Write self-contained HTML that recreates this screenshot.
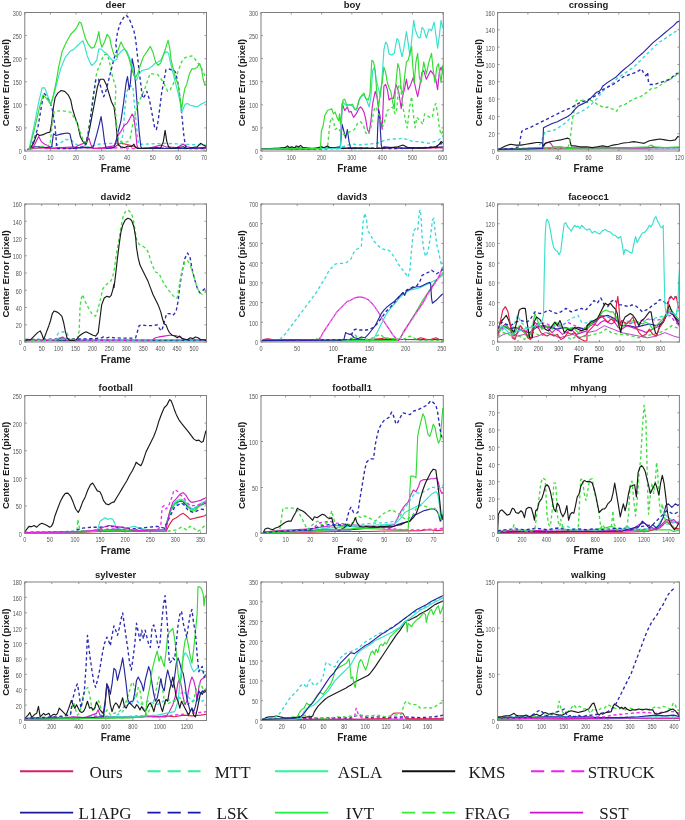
<!DOCTYPE html>
<html><head><meta charset="utf-8"><style>
html,body{margin:0;padding:0;background:#fff;}
svg{display:block;will-change:transform;}
.tk{font-family:"Liberation Sans",sans-serif;font-size:6.4px;fill:#555;}
.tt{font-family:"Liberation Sans",sans-serif;font-size:9.5px;font-weight:bold;fill:#1a1a1a;}
.xl{font-family:"Liberation Sans",sans-serif;font-size:10px;font-weight:bold;fill:#1a1a1a;}
.yl{font-family:"Liberation Sans",sans-serif;font-size:9.6px;font-weight:bold;fill:#1a1a1a;}
.lg{font-family:"Liberation Serif",serif;font-size:17px;fill:#1a1a1a;}
</style></head><body>
<svg width="685" height="820" viewBox="0 0 685 820">
<clipPath id="c0"><rect x="24.8" y="12.5" width="181.7" height="138.5"/></clipPath>
<g clip-path="url(#c0)" fill="none" stroke-linejoin="round" stroke-linecap="round">
<polyline points="27.46,149.4 34.39,148.54 41.32,147.67 49.98,148.54 58.63,147.67 69.02,148.54 75.95,148.19 82.88,146.8 88.07,147.67 96.73,148.54 107.12,148.19 113.88,147.67 117.46,145.07 120.93,143.34 126.12,144.21 133.05,145.94 139.98,148.54 157.29,148.54 174.61,148.19 191.93,148.54 206.99,148.19" stroke="#e0204a" stroke-width="1.15"/>
<polyline points="27.46,149.4 37.85,147.67 48.24,148.54 58.63,148.19 72.49,148.54 86.34,147.67 100.2,148.54 113.88,148.02 120.93,147.67 134.78,148.54 157.29,147.67 183.27,148.54 206.99,148.02" stroke="#ee30ee" stroke-width="1.35" stroke-dasharray="3.2 2.6" stroke-linecap="butt"/>
<polyline points="49.98,147.67 58.63,144.21 65.56,139.53 70.76,139.88 75.95,144.21 81.15,146.8 89.8,146.8 98.46,144.21 105.39,143.69 113.88,143.34 120.93,143.34 123.52,131.22 124.39,112.69 126.81,91.91 129.07,86.02 132.88,86.37 134.26,103.17 135.65,117.37 137.03,131.39 138.42,144.21 141.71,144.21 157.29,143.69 165.95,143.34 183.27,144.21 195.39,144.73 206.99,145.07" stroke="#3ed8d8" stroke-width="1.35" stroke-dasharray="3.2 2.6" stroke-linecap="butt"/>
<polyline points="29.2,149.4 34.39,145.07 38.72,136.41 41.32,141.61 44.78,144.21 48.24,145.94 51.71,148.54 62.1,147.67 75.95,146.8 81.15,144.21 83.74,143.34 86.34,141.61 88.94,138.15 90.67,144.21 93.27,148.54 103.66,147.67 113.88,145.94 115.73,141.61 117.46,136.41 120.93,131.22 124.39,125.16 126.99,123.43 129.59,119.1 132.18,113.9 133.91,117.37 135.65,131.22 136.86,145.07 138.24,148.54 148.63,148.19 160.76,145.07 165.95,146.8 176.34,147.67 183.27,144.21 186.73,146.8 197.12,148.54 206.99,146.8" stroke="#d020c8" stroke-width="1.15"/>
<polyline points="29.2,149.4 34.39,146.8 39.59,146.8 46.51,147.67 51.71,146.8 53.44,133.82 56.04,135.55 58.63,134.68 62.1,133.82 67.29,132.95 69.89,133.82 71.62,141.61 73.35,148.54 81.15,147.67 89.8,147.67 93.27,146.8 96.73,134.68 99.33,124.29 101.06,116.5 102.79,127.76 104.52,141.61 106.26,148.54 113.88,147.67 114,146.8 115.73,143.34 117.46,134.68 120.93,120.83 123.52,103.51 126.12,82.73 127.51,76.67 129.24,89.66 130.45,82.73 132.18,58.49 133.91,67.15 135.65,84.46 137.38,106.98 139.11,131.22 140.84,146.8 142.57,148.54 165.95,148.54 186.73,148.54 206.99,147.67" stroke="#2626a0" stroke-width="1.15"/>
<polyline points="29.2,149.4 33.52,143.34 36.99,133.82 39.59,135.55 43.05,134.68 46.51,132.95 49.98,132.09 51.71,122.56 53.44,106.98 55.17,97.45 57.77,93.12 61.23,90.52 64.7,91.39 68.16,94.85 70.76,100.05 72.49,108.71 75.09,117.37 77.68,124.29 80.28,136.41 82.88,141.61 86.34,144.21 89.8,127.76 92.4,113.9 95,100.05 97.6,86.2 100.2,79.27 103.66,79.27 106.26,84.46 108.85,93.12 111.45,101.78 114.05,106.98 115.78,120.83 116.99,134.68 118.33,145.07 120.93,146.8 124.39,147.67 127.85,145.94 131.32,146.8 133.91,144.21 135.65,147.67 138.24,148.54 160.76,147.67 163.35,141.61 165.09,130.35 166.82,141.61 168.55,146.8 171.15,148.54 183.27,146.8 186.73,148.54 197.12,146.8 200.59,143.34 203.18,145.07 206.99,146.8" stroke="#1a1a1a" stroke-width="1.15"/>
<polyline points="29.2,149.4 39.59,146.8 49.98,145.07 52.57,120.83 54.3,111.3 62.1,110.79 70.76,112.17 75.95,120.83 81.15,134.68 83.74,141.61 86.69,142.48 89.8,120.83 93.27,96.59 96.73,72.34 100.2,63.68 103.66,55.02 107.12,54.16 109.03,60.05 112.32,75.8 115.95,87.93 115.04,104.9 116.25,121.7 118.5,140.74 122.66,142.48 127.85,141.61 130.1,138.49 133.05,122.73 137.55,104.9 144.3,90.18 150.02,73.55 157.81,74.59 163.53,82.39 167.68,91.39 170.28,89.66 173.74,82.73 176.34,75.8 178.94,68.88 181.54,61.95 185,57.62 188.46,56.76 191.93,55.89 194.52,58.49 197.12,61.95 199.72,65.41 202.32,69.74 204.91,75.8 206.99,79.27" stroke="#40e040" stroke-width="1.35" stroke-dasharray="3.2 2.6" stroke-linecap="butt"/>
<polyline points="29.2,148.54 33.52,141.61 37.85,127.76 41.32,106.98 43.91,93.12 46.51,95.72 49.98,101.78 52.57,110.44 55.17,127.76 56.9,148.54 69.02,148.54 84.61,146.8 88.07,134.68 90.67,117.37 93.27,96.59 95.87,79.27 98.46,79.27 101.06,87.93 103.66,96.59 105.39,93.12 107.99,82.73 110.59,72.34 114.05,58.49 116.99,49.83 115.73,44.63 117.46,32.51 120.06,23.85 123.52,17.79 126.12,15.2 128.72,17.79 131.32,23.85 133.91,30.78 135.65,39.44 137.38,55.02 139.11,70.61 140.84,84.46 142.57,98.32 144.3,96.59 146.9,91.39 149.5,100.05 152.1,113.9 154.7,127.76 156.43,129.49 158.16,120.83 159.89,106.98 161.62,93.12 164.22,79.27 165.95,69.74 168.55,68.88 171.15,69.74 173.74,69.74 175.48,72.34 177.21,79.27 178.94,89.66 180.67,103.51 182.4,120.83 184.13,138.15 185.87,146.8 188.46,148.54 206.99,148.54" stroke="#2a2ab4" stroke-width="1.35" stroke-dasharray="3.2 2.6" stroke-linecap="butt"/>
<polyline points="29.2,149.4 34.39,124.29 38.72,101.78 42.18,87.93 44.78,87.93 47.38,94.85 50.84,104.38 54.3,93.12 57.77,79.27 61.23,67.15 65.56,56.76 69.89,51.56 74.22,48.96 77.68,45.5 80.28,42.9 82.88,40.82 84.61,45.5 87.21,55.89 89.8,61.95 91.54,65.41 94.13,63.68 96.73,60.22 98.81,48.96 101.06,48.96 103.66,51.56 107.12,54.16 110.59,58.49 113.18,61.09 116.99,59.35 117.46,55.89 121.79,50.7 124.39,48.96 126.99,51.56 129.59,57.62 132.18,66.28 134.78,77.54 136.51,80.13 139.11,74.07 141.71,70.61 145.17,69.74 148.63,68.88 152.1,66.28 155.56,62.82 158.16,61.95 160.76,60.22 163.35,55.02 165.95,51.56 168.55,53.29 170.28,61.95 172.01,68.88 174.61,79.27 177.21,89.66 179.8,100.05 181.54,112.17 183.27,108.71 185,104.38 187.6,103.51 190.2,105.24 193.66,106.11 197.12,106.98 200.59,104.38 204.05,102.65 206.99,100.91" stroke="#38e0cc" stroke-width="1.15"/>
<polyline points="29.2,149.4 34.39,129.49 39.59,106.98 43.05,94.85 46.51,98.32 50.84,104.38 53.44,94.85 56.04,82.73 58.63,67.15 62.1,51.56 66.43,42.04 70.76,34.24 74.22,30.78 76.82,27.32 79.41,22.12 81.15,22.99 82.88,29.05 85.48,38.57 88.07,43.77 91.54,48.1 94.13,47.23 96.73,40.3 98.81,31.65 100.2,41.17 101.93,47.23 104.52,42.04 107.12,34.24 109.72,37.71 111.45,46.37 114.05,55.02 116.99,56.76 117.46,51.56 120.93,42.04 123.52,47.23 126.12,51.56 128.72,57.62 131.32,67.15 133.91,75.8 135.65,77.54 138.24,72.34 140.84,63.68 143.44,56.76 146.9,51.56 150.37,46.37 152.96,52.43 155.56,61.95 158.16,65.41 160.76,62.82 163.35,55.02 165.95,47.23 168.03,40.3 169.76,48.1 171.15,60.22 172.88,67.15 175.48,77.54 178.07,84.46 179.8,96.59 181.54,110.44 183.27,96.59 185,87.93 186.73,84.46 189.33,74.07 191.93,68.88 194.52,68.88 197.12,67.15 199.72,63.68 201.45,68.88 203.18,79.27 204.91,85.33 206.99,82.73" stroke="#30dc30" stroke-width="1.15"/>
</g>
<rect x="24.8" y="12.5" width="181.7" height="138.5" fill="none" stroke="#808080" stroke-width="1"/>
<path d="M24.8,151v-2.0M24.8,12.5v2.0" stroke="#808080" stroke-width="0.8"/>
<text transform="translate(24.8,159.5) scale(0.86,1)" text-anchor="middle" class="tk">0</text>
<path d="M50.39,151v-2.0M50.39,12.5v2.0" stroke="#808080" stroke-width="0.8"/>
<text transform="translate(50.39,159.5) scale(0.86,1)" text-anchor="middle" class="tk">10</text>
<path d="M75.98,151v-2.0M75.98,12.5v2.0" stroke="#808080" stroke-width="0.8"/>
<text transform="translate(75.98,159.5) scale(0.86,1)" text-anchor="middle" class="tk">20</text>
<path d="M101.57,151v-2.0M101.57,12.5v2.0" stroke="#808080" stroke-width="0.8"/>
<text transform="translate(101.57,159.5) scale(0.86,1)" text-anchor="middle" class="tk">30</text>
<path d="M127.17,151v-2.0M127.17,12.5v2.0" stroke="#808080" stroke-width="0.8"/>
<text transform="translate(127.17,159.5) scale(0.86,1)" text-anchor="middle" class="tk">40</text>
<path d="M152.76,151v-2.0M152.76,12.5v2.0" stroke="#808080" stroke-width="0.8"/>
<text transform="translate(152.76,159.5) scale(0.86,1)" text-anchor="middle" class="tk">50</text>
<path d="M178.35,151v-2.0M178.35,12.5v2.0" stroke="#808080" stroke-width="0.8"/>
<text transform="translate(178.35,159.5) scale(0.86,1)" text-anchor="middle" class="tk">60</text>
<path d="M203.94,151v-2.0M203.94,12.5v2.0" stroke="#808080" stroke-width="0.8"/>
<text transform="translate(203.94,159.5) scale(0.86,1)" text-anchor="middle" class="tk">70</text>
<path d="M24.8,151h2.0M206.5,151h-2.0" stroke="#808080" stroke-width="0.8"/>
<text transform="translate(21.9,154.4) scale(0.86,1)" text-anchor="end" class="tk">0</text>
<path d="M24.8,127.92h2.0M206.5,127.92h-2.0" stroke="#808080" stroke-width="0.8"/>
<text transform="translate(21.9,131.32) scale(0.86,1)" text-anchor="end" class="tk">50</text>
<path d="M24.8,104.83h2.0M206.5,104.83h-2.0" stroke="#808080" stroke-width="0.8"/>
<text transform="translate(21.9,108.23) scale(0.86,1)" text-anchor="end" class="tk">100</text>
<path d="M24.8,81.75h2.0M206.5,81.75h-2.0" stroke="#808080" stroke-width="0.8"/>
<text transform="translate(21.9,85.15) scale(0.86,1)" text-anchor="end" class="tk">150</text>
<path d="M24.8,58.67h2.0M206.5,58.67h-2.0" stroke="#808080" stroke-width="0.8"/>
<text transform="translate(21.9,62.07) scale(0.86,1)" text-anchor="end" class="tk">200</text>
<path d="M24.8,35.58h2.0M206.5,35.58h-2.0" stroke="#808080" stroke-width="0.8"/>
<text transform="translate(21.9,38.98) scale(0.86,1)" text-anchor="end" class="tk">250</text>
<path d="M24.8,12.5h2.0M206.5,12.5h-2.0" stroke="#808080" stroke-width="0.8"/>
<text transform="translate(21.9,15.9) scale(0.86,1)" text-anchor="end" class="tk">300</text>
<text x="115.65" y="8.2" text-anchor="middle" class="tt">deer</text>
<text x="115.65" y="171.6" text-anchor="middle" class="xl">Frame</text>
<text transform="translate(9.2,82.65) rotate(-90)" text-anchor="middle" class="yl">Center Error (pixel)</text>
<clipPath id="c1"><rect x="261" y="12.5" width="182.3" height="138.5"/></clipPath>
<g clip-path="url(#c1)" fill="none" stroke-linejoin="round" stroke-linecap="round">
<polyline points="260.73,149.4 276.32,149.06 293.63,148.54 310.95,148.88 328.27,148.19 342.12,148.54 350.95,147.84 361.39,148.19 376.98,148.54 394.29,147.67 411.61,148.19 428.93,147.84 443.99,147.67" stroke="#e0204a" stroke-width="1.15"/>
<polyline points="260.73,149.4 279.78,148.54 302.29,148.88 324.8,148.54 342.12,148.19 350.95,148.54 361.39,148.54 385.63,147.67 402.95,148.54 423.73,148.02 443.99,147.67" stroke="#ee30ee" stroke-width="1.35" stroke-dasharray="3.2 2.6" stroke-linecap="butt"/>
<polyline points="260.73,149.4 272.85,148.54 284.98,148.19 297.1,147.67 310.95,148.54 328.27,147.67 339.52,147.67 340.39,146.8 342.12,103.51 344.72,110.44 347.32,106.98 349.05,112.17 350.95,111.3 353.6,117.37 356.2,113.9 358.79,108.71 360.52,106.98 362.26,108.71 363.99,112.17 365.72,119.1 367.45,129.49 369.18,132.95 370.91,120.83 372.65,103.51 375.24,91.39 376.98,96.59 378.71,110.44 380.44,119.1 382.17,129.49 383.9,86.2 385.63,84.46 387.37,89.66 389.1,100.05 390.83,98.32 393.43,98.32 396.02,84.46 398.62,91.39 401.22,108.71 402.95,94.85 404.68,87.93 406.41,79.27 408.15,89.66 410.74,84.46 413.34,77.54 415.94,89.66 417.67,96.59 419.4,87.93 422,72.34 423.73,70.61 426.33,79.27 428.93,74.07 430.66,70.61 433.26,74.07 435.85,79.27 437.59,89.66 439.32,72.34 441.05,67.15 443.99,75.8" stroke="#d020c8" stroke-width="1.15"/>
<polyline points="260.73,149.4 284.98,148.54 310.95,148.19 335.2,147.84 342.12,146.8 350.95,144.21 354.46,144.21 357.93,145.07 368.32,144.21 376.98,143.34 385.63,139.88 392.56,139.01 397.76,139.01 402.95,138.15 408.15,139.88 413.34,141.61 418.54,141.61 423.73,142.48 428.93,143.34 434.12,141.61 437.59,140.74 441.05,138.15 443.99,134.68" stroke="#3ed8d8" stroke-width="1.35" stroke-dasharray="3.2 2.6" stroke-linecap="butt"/>
<polyline points="260.73,149.4 284.98,148.54 310.95,148.88 340.39,148.54 350.95,148.19 368.32,148.19 394.29,148.54 420.27,147.84 436.72,146.8 441.05,143.34 442.78,145.07 443.99,144.21" stroke="#2a2ab4" stroke-width="1.35" stroke-dasharray="3.2 2.6" stroke-linecap="butt"/>
<polyline points="260.73,149.4 293.63,148.88 328.27,148.54 340.39,146.8 342.12,124.29 343.85,131.22 345.59,138.15 347.32,129.49 349.05,141.61 350.78,148.54 352.73,148.54 376.98,148.54 377.84,124.29 378.71,110.44 379.57,113.9 380.44,131.22 381.3,145.07 382.17,148.54 383.9,146.8 402.95,148.54 428.93,147.67 443.99,146.8" stroke="#2626a0" stroke-width="1.15"/>
<polyline points="260.73,149.4 293.63,148.54 327.4,148.54 329.13,131.22 330,122.56 331.73,117.37 333.46,120.83 335.2,129.49 337.79,127.76 340.39,131.22 343.85,134.68 350.95,131.22 354.46,129.49 357.93,122.56 360.52,121.7 363.12,124.29 365.72,132.95 368.32,134.68 370.91,127.76 372.65,117.37 374.38,108.71 376.11,106.98 378.71,113.9 380.44,120.83 383.04,126.02 384.77,120.83 387.37,110.44 389.96,108.71 392.56,106.98 395.16,113.9 396.89,108.71 398.62,86.2 400.35,84.46 402.95,106.98 405.55,120.83 407.28,127.76 409.88,105.24 411.61,96.59 413.34,113.9 415.07,127.76 416.8,117.37 420.27,120.83 422.87,124.29 424.6,113.9 427.2,115.63 429.79,117.37 432.39,117.37 434.12,106.98 435.85,103.51 437.59,113.9 439.32,127.76 441.05,134.68 442.78,131.22 443.99,129.49" stroke="#40e040" stroke-width="1.35" stroke-dasharray="3.2 2.6" stroke-linecap="butt"/>
<polyline points="260.73,149.4 269.39,148.54 279.78,148.19 284.98,147.67 287.57,145.94 289.3,147.67 291.9,146.8 294.5,148.02 296.23,145.94 298.83,146.8 300.56,145.42 303.16,147.67 307.49,148.19 314.41,148.54 321.34,146.8 323.94,147.67 327.4,145.94 330,147.67 335.2,148.54 350.95,148.19 361.39,148.19 376.98,148.54 390.83,147.67 397.76,146.8 402.95,145.07 408.15,147.67 420.27,148.19 428.93,147.67 435.85,146.8 439.32,144.21 441.05,141.61 443.99,143.34" stroke="#1a1a1a" stroke-width="1.15"/>
<polyline points="260.73,149.4 293.63,148.54 328.27,148.54 340.39,148.54 342.12,106.98 342.99,101.78 346.45,106.11 349.05,104.38 350.95,105.24 353.6,106.98 356.2,110.44 358.79,100.05 361.39,96.59 363.99,94.85 366.59,100.05 369.18,106.98 370.91,96.59 372.65,70.61 374.38,67.15 376.11,79.27 378.71,89.66 380.44,96.59 382.17,75.8 383.9,49.83 385.63,42.04 387.37,44.63 389.1,54.16 391.7,55.02 394.29,53.29 396.89,38.57 398.62,40.3 400.35,49.83 402.09,56.76 403.82,48.1 406.41,31.65 408.15,42.9 409.88,55.89 411.61,41.17 413.69,20.39 415.07,29.05 416.8,34.24 418.54,37.71 420.27,37.71 422,27.32 423.73,29.05 426.33,37.71 428.93,29.05 431.52,30.78 434.12,22.12 435.85,34.24 437.59,48.1 439.32,35.98 441.05,20.39 442.78,27.32 443.99,25.59" stroke="#38e0cc" stroke-width="1.15"/>
<polyline points="260.73,149.4 293.63,148.54 320.48,148.54 321.34,131.22 323.07,126.02 324.8,115.63 327.4,110.44 330,109.57 331.73,108.71 333.46,113.9 335.2,112.17 336.93,117.37 338.66,120.83 339.52,113.9 340.39,124.29 342.99,100.05 344.72,99.18 346.45,104.38 348.18,105.24 350.95,104.9 352.73,104.38 354.46,109.57 357.06,108.71 359.66,98.32 362.26,94.85 363.99,93.12 365.72,98.32 368.32,100.05 370.05,93.12 371.78,60.22 373.51,61.95 375.24,70.61 376.98,94.85 378.71,106.98 380.44,91.39 382.17,82.73 383.9,67.15 385.63,72.34 387.37,82.73 389.1,87.93 390.83,91.39 392.56,101.78 394.29,108.71 396.02,82.73 397.76,63.68 399.49,68.88 401.22,89.66 402.95,93.12 404.68,75.8 406.41,61.95 408.15,60.22 409.88,53.29 411.61,46.37 412.48,61.95 414.21,82.73 415.94,61.95 417.67,53.29 419.4,77.54 421.13,82.73 423.73,61.95 426.33,74.07 428.93,61.95 431.52,53.29 433.26,70.61 434.99,82.73 436.72,67.15 438.45,63.68 441.05,82.73 442.78,65.41 443.99,79.27" stroke="#30dc30" stroke-width="1.15"/>
</g>
<rect x="261" y="12.5" width="182.3" height="138.5" fill="none" stroke="#808080" stroke-width="1"/>
<path d="M261,151v-2.0M261,12.5v2.0" stroke="#808080" stroke-width="0.8"/>
<text transform="translate(261,159.5) scale(0.86,1)" text-anchor="middle" class="tk">0</text>
<path d="M291.28,151v-2.0M291.28,12.5v2.0" stroke="#808080" stroke-width="0.8"/>
<text transform="translate(291.28,159.5) scale(0.86,1)" text-anchor="middle" class="tk">100</text>
<path d="M321.56,151v-2.0M321.56,12.5v2.0" stroke="#808080" stroke-width="0.8"/>
<text transform="translate(321.56,159.5) scale(0.86,1)" text-anchor="middle" class="tk">200</text>
<path d="M351.85,151v-2.0M351.85,12.5v2.0" stroke="#808080" stroke-width="0.8"/>
<text transform="translate(351.85,159.5) scale(0.86,1)" text-anchor="middle" class="tk">300</text>
<path d="M382.13,151v-2.0M382.13,12.5v2.0" stroke="#808080" stroke-width="0.8"/>
<text transform="translate(382.13,159.5) scale(0.86,1)" text-anchor="middle" class="tk">400</text>
<path d="M412.41,151v-2.0M412.41,12.5v2.0" stroke="#808080" stroke-width="0.8"/>
<text transform="translate(412.41,159.5) scale(0.86,1)" text-anchor="middle" class="tk">500</text>
<path d="M442.69,151v-2.0M442.69,12.5v2.0" stroke="#808080" stroke-width="0.8"/>
<text transform="translate(442.69,159.5) scale(0.86,1)" text-anchor="middle" class="tk">600</text>
<path d="M261,151h2.0M443.3,151h-2.0" stroke="#808080" stroke-width="0.8"/>
<text transform="translate(258.1,154.4) scale(0.86,1)" text-anchor="end" class="tk">0</text>
<path d="M261,127.92h2.0M443.3,127.92h-2.0" stroke="#808080" stroke-width="0.8"/>
<text transform="translate(258.1,131.32) scale(0.86,1)" text-anchor="end" class="tk">50</text>
<path d="M261,104.83h2.0M443.3,104.83h-2.0" stroke="#808080" stroke-width="0.8"/>
<text transform="translate(258.1,108.23) scale(0.86,1)" text-anchor="end" class="tk">100</text>
<path d="M261,81.75h2.0M443.3,81.75h-2.0" stroke="#808080" stroke-width="0.8"/>
<text transform="translate(258.1,85.15) scale(0.86,1)" text-anchor="end" class="tk">150</text>
<path d="M261,58.67h2.0M443.3,58.67h-2.0" stroke="#808080" stroke-width="0.8"/>
<text transform="translate(258.1,62.07) scale(0.86,1)" text-anchor="end" class="tk">200</text>
<path d="M261,35.58h2.0M443.3,35.58h-2.0" stroke="#808080" stroke-width="0.8"/>
<text transform="translate(258.1,38.98) scale(0.86,1)" text-anchor="end" class="tk">250</text>
<path d="M261,12.5h2.0M443.3,12.5h-2.0" stroke="#808080" stroke-width="0.8"/>
<text transform="translate(258.1,15.9) scale(0.86,1)" text-anchor="end" class="tk">300</text>
<text x="352.15" y="8.2" text-anchor="middle" class="tt">boy</text>
<text x="352.15" y="171.6" text-anchor="middle" class="xl">Frame</text>
<text transform="translate(245.4,82.65) rotate(-90)" text-anchor="middle" class="yl">Center Error (pixel)</text>
<clipPath id="c2"><rect x="497.6" y="12.5" width="181.8" height="138.5"/></clipPath>
<g clip-path="url(#c2)" fill="none" stroke-linejoin="round" stroke-linecap="round">
<polyline points="498.46,149.4 512.32,148.54 529.63,148.88 546.95,148.19 564.27,148.54 586.95,148.02 592.2,148.19 612.98,147.84 638.95,148.19 656.27,147.67 679.99,147.67" stroke="#e0204a" stroke-width="1.15"/>
<polyline points="498.46,149.4 520.98,148.54 546.95,147.84 572.93,148.54 586.95,148.19 595.66,148.54 621.63,148.19 647.61,147.67 664.93,148.02 679.99,147.84" stroke="#ee30ee" stroke-width="1.35" stroke-dasharray="3.2 2.6" stroke-linecap="butt"/>
<polyline points="498.46,149.4 520.98,148.54 541.76,147.67 543.49,146.8 545.22,143.34 546.95,142.48 549.55,142.48 551.28,144.21 553.01,146.8 567.73,147.67 586.95,148.02 597.39,148.19 621.63,147.67 647.61,148.19 652.8,146.8 656.27,147.67 679.99,147.67" stroke="#d020c8" stroke-width="1.15"/>
<polyline points="498.46,149.58 529.63,149.58 564.27,149.4 586.95,149.4 604.32,149.23 638.95,149.4 679.99,149.06" stroke="#38e0cc" stroke-width="1.15"/>
<polyline points="498.46,149.4 529.63,148.54 546.95,147.67 560.8,146.8 567.73,148.54 586.95,147.67 604.32,148.02 630.29,147.67 647.61,146.8 651.07,145.07 654.54,146.8 664.93,147.67 679.99,146.8" stroke="#30dc30" stroke-width="1.15"/>
<polyline points="498.46,149.4 505.39,145.94 510.59,144.21 515.78,145.07 520.98,145.07 526.17,144.21 531.37,143.34 536.56,142.48 541.76,142.48 543.49,145.94 545.22,143.34 550.41,141.61 555.61,140.74 560.8,139.88 564.27,139.01 567.73,138.15 569.46,139.01 571.2,145.94 574.66,145.94 579.85,146.8 586.95,146.8 592.2,147.67 597.39,146.8 602.59,145.94 607.78,146.8 612.98,145.07 618.17,144.21 623.37,143 628.56,142.48 633.76,141.61 638.95,142.48 644.15,143.34 649.34,140.74 654.54,139.88 659.73,139.01 664.93,139.88 670.12,140.74 675.32,139.88 677.91,136.41 679.99,137.28" stroke="#1a1a1a" stroke-width="1.15"/>
<polyline points="539.16,145.07 540.89,143.34 545.22,131.22 550.41,131.22 555.61,129.49 560.8,126.02 566,122.56 571.2,117.37 576.39,113.9 581.59,111.3 586.95,108.36 592.2,103.51 597.39,98.32 602.59,91.39 607.78,87.06 612.98,82.73 618.17,77.54 623.37,74.07 628.56,70.61 633.76,67.15 638.95,61.95 644.15,56.76 649.34,51.56 654.54,46.37 659.73,42.04 664.93,38.57 670.12,35.11 675.32,31.65 679.99,29.05" stroke="#3ed8d8" stroke-width="1.35" stroke-dasharray="3.2 2.6" stroke-linecap="butt"/>
<polyline points="498.46,149.4 529.63,148.54 567.73,147.67 569.46,143.34 571.2,131.22 572.06,120.83 573.79,112.17 575.52,103.51 576.39,100.05 579.85,100.91 583.32,100.05 586.95,102.65 590.46,100.05 593.93,101.78 597.39,104.38 600.85,106.11 604.32,107.84 607.78,106.98 611.24,108.71 614.71,109.57 616.44,111.3 619.9,106.11 625.1,104.38 630.29,100.91 635.49,98.32 640.68,96.59 645.88,93.12 651.07,88.79 656.27,87.93 661.46,84.46 666.66,81 671.85,78.4 675.32,75.8 679.99,71.48" stroke="#40e040" stroke-width="1.35" stroke-dasharray="3.2 2.6" stroke-linecap="butt"/>
<polyline points="498.46,149.4 512.32,148.54 519.24,146.8 520.11,139.88 521.84,131.22 524.44,129.49 529.63,127.76 534.83,125.16 540.02,122.56 545.22,119.96 550.41,117.37 555.61,114.77 560.8,112.17 566,109.57 571.2,107.84 576.39,104.38 581.59,101.78 586.95,100.4 592.2,97.45 597.39,94.85 602.59,89.66 607.78,87.06 612.98,84.46 618.17,81 623.37,76.67 628.56,74.94 633.76,73.21 638.95,70.61 641.55,68.88 643.28,72.34 645.88,75.8 647.61,72.34 648.48,82.73 650.21,84.46 654.54,84.46 659.73,82.73 664.93,81 670.12,79.27 673.59,75.8 677.05,73.21 679.99,74.94" stroke="#2a2ab4" stroke-width="1.35" stroke-dasharray="3.2 2.6" stroke-linecap="butt"/>
<polyline points="498.46,149.4 520.98,149.06 541.76,148.54 542.62,148.54 543.49,127.76 546.95,126.02 552.15,123.43 557.34,121.7 562.54,119.1 567.73,116.5 571.2,113.9 574.66,109.57 578.12,106.11 581.59,104.38 586.95,101.78 590.46,98.32 593.93,94.85 596.52,92.26 599.12,91.39 600.85,89.66 602.59,86.2 606.05,83.6 611.24,80.13 616.44,76.67 621.63,71.48 626.83,67.15 632.02,62.82 637.22,57.62 642.41,53.29 647.61,48.1 652.8,42.9 658,38.57 663.2,34.24 668.39,29.91 673.59,25.59 677.05,22.12 679.99,20.74" stroke="#2626a0" stroke-width="1.15"/>
</g>
<rect x="497.6" y="12.5" width="181.8" height="138.5" fill="none" stroke="#808080" stroke-width="1"/>
<path d="M497.6,151v-2.0M497.6,12.5v2.0" stroke="#808080" stroke-width="0.8"/>
<text transform="translate(497.6,159.5) scale(0.86,1)" text-anchor="middle" class="tk">0</text>
<path d="M527.9,151v-2.0M527.9,12.5v2.0" stroke="#808080" stroke-width="0.8"/>
<text transform="translate(527.9,159.5) scale(0.86,1)" text-anchor="middle" class="tk">20</text>
<path d="M558.2,151v-2.0M558.2,12.5v2.0" stroke="#808080" stroke-width="0.8"/>
<text transform="translate(558.2,159.5) scale(0.86,1)" text-anchor="middle" class="tk">40</text>
<path d="M588.5,151v-2.0M588.5,12.5v2.0" stroke="#808080" stroke-width="0.8"/>
<text transform="translate(588.5,159.5) scale(0.86,1)" text-anchor="middle" class="tk">60</text>
<path d="M618.8,151v-2.0M618.8,12.5v2.0" stroke="#808080" stroke-width="0.8"/>
<text transform="translate(618.8,159.5) scale(0.86,1)" text-anchor="middle" class="tk">80</text>
<path d="M649.1,151v-2.0M649.1,12.5v2.0" stroke="#808080" stroke-width="0.8"/>
<text transform="translate(649.1,159.5) scale(0.86,1)" text-anchor="middle" class="tk">100</text>
<path d="M679.4,151v-2.0M679.4,12.5v2.0" stroke="#808080" stroke-width="0.8"/>
<text transform="translate(679.4,159.5) scale(0.86,1)" text-anchor="middle" class="tk">120</text>
<path d="M497.6,151h2.0M679.4,151h-2.0" stroke="#808080" stroke-width="0.8"/>
<text transform="translate(494.7,154.4) scale(0.86,1)" text-anchor="end" class="tk">0</text>
<path d="M497.6,133.69h2.0M679.4,133.69h-2.0" stroke="#808080" stroke-width="0.8"/>
<text transform="translate(494.7,137.09) scale(0.86,1)" text-anchor="end" class="tk">20</text>
<path d="M497.6,116.38h2.0M679.4,116.38h-2.0" stroke="#808080" stroke-width="0.8"/>
<text transform="translate(494.7,119.78) scale(0.86,1)" text-anchor="end" class="tk">40</text>
<path d="M497.6,99.06h2.0M679.4,99.06h-2.0" stroke="#808080" stroke-width="0.8"/>
<text transform="translate(494.7,102.46) scale(0.86,1)" text-anchor="end" class="tk">60</text>
<path d="M497.6,81.75h2.0M679.4,81.75h-2.0" stroke="#808080" stroke-width="0.8"/>
<text transform="translate(494.7,85.15) scale(0.86,1)" text-anchor="end" class="tk">80</text>
<path d="M497.6,64.44h2.0M679.4,64.44h-2.0" stroke="#808080" stroke-width="0.8"/>
<text transform="translate(494.7,67.84) scale(0.86,1)" text-anchor="end" class="tk">100</text>
<path d="M497.6,47.12h2.0M679.4,47.12h-2.0" stroke="#808080" stroke-width="0.8"/>
<text transform="translate(494.7,50.52) scale(0.86,1)" text-anchor="end" class="tk">120</text>
<path d="M497.6,29.81h2.0M679.4,29.81h-2.0" stroke="#808080" stroke-width="0.8"/>
<text transform="translate(494.7,33.21) scale(0.86,1)" text-anchor="end" class="tk">140</text>
<path d="M497.6,12.5h2.0M679.4,12.5h-2.0" stroke="#808080" stroke-width="0.8"/>
<text transform="translate(494.7,15.9) scale(0.86,1)" text-anchor="end" class="tk">160</text>
<text x="588.5" y="8.2" text-anchor="middle" class="tt">crossing</text>
<text x="588.5" y="171.6" text-anchor="middle" class="xl">Frame</text>
<text transform="translate(482,82.65) rotate(-90)" text-anchor="middle" class="yl">Center Error (pixel)</text>
<clipPath id="c3"><rect x="24.8" y="204" width="181.7" height="138"/></clipPath>
<g clip-path="url(#c3)" fill="none" stroke-linejoin="round" stroke-linecap="round">
<polyline points="25.46,340.58 47.98,340.4 73.95,340.58 99.93,340.4 113.95,340.4 122.66,340.4 148.63,340.58 174.61,340.4 206.99,340.4" stroke="#e0204a" stroke-width="1.15"/>
<polyline points="25.46,340.23 47.98,340.06 73.95,340.23 99.93,339.88 113.95,340.06 122.66,340.23 148.63,340.06 174.61,340.23 206.99,340.23" stroke="#ee30ee" stroke-width="1.35" stroke-dasharray="3.2 2.6" stroke-linecap="butt"/>
<polyline points="25.46,340.4 53.17,340.23 56.63,339.54 59.23,337.8 63.56,337.8 67.02,338.67 70.49,340.4 113.95,340.4 122.66,340.4 157.29,340.23 183.27,340.4 206.99,340.4" stroke="#38e0cc" stroke-width="1.15"/>
<polyline points="25.46,340.58 113.95,340.58 122.66,340.58 206.99,340.58" stroke="#30dc30" stroke-width="1.15"/>
<polyline points="25.46,340.4 113.95,340.23 122.66,340.4 165.95,340.23 206.99,340.4" stroke="#2626a0" stroke-width="1.15"/>
<polyline points="25.46,340.4 54.9,340.23 58.37,339.54 60.96,337.8 62.7,336.94 64.43,338.67 67.02,340.23 113.95,340.4 122.66,340.4 152.1,340.06 155.56,337.8 159.02,336.94 164.22,336.07 169.41,335.21 172.88,335.21 176.34,335.73 179.8,336.94 182.4,338.67 186.73,339.54 206.99,340.06" stroke="#d020c8" stroke-width="1.15"/>
<polyline points="25.46,340.4 54.9,340.06 55.77,339.54 57.5,334.34 59.23,332.61 63.56,331.74 67.02,332.61 68.76,337.8 70.49,339.88 113.95,340.06 122.66,340.06 206.99,340.06" stroke="#3ed8d8" stroke-width="1.35" stroke-dasharray="3.2 2.6" stroke-linecap="butt"/>
<polyline points="25.46,339.54 47.98,339.19 73.95,339.02 94.73,338.67 101.66,337.8 103.39,336.94 106.85,337.8 110.32,336.94 113.95,337.8 122.66,338.15 131.32,338.15 135.65,337.8 139.11,325.68 141.71,324.82 146.9,325.68 152.1,325.68 157.29,324.82 159.89,329.15 161.62,330.88 163.35,325.68 165.09,318.76 166.82,313.56 169.41,313.56 172.88,315.29 174.61,313.56 176.34,310.1 178.07,301.44 179.8,285.85 182.4,270.27 185,258.15 187.6,252.95 190.2,258.15 191.93,268.54 194.52,278.93 197.12,287.59 199.72,292.78 202.32,291.05 204.91,288.45 206.99,291.05" stroke="#2a2ab4" stroke-width="1.35" stroke-dasharray="3.2 2.6" stroke-linecap="butt"/>
<polyline points="25.46,340.4 56.63,339.54 77.41,339.54 79.15,330.88 80.01,308.37 80.88,299.71 82.61,294.51 84.34,299.71 86.94,304.9 89.54,310.1 93,315.29 95.6,316.16 98.2,308.37 100.79,297.98 102.52,289.32 105.12,285.85 108.59,282.39 111.18,280.66 112.91,275.46 113.95,272 115.73,258.15 118.33,242.56 120.93,226.98 123.52,214.85 126.12,210.52 128.72,210.52 131.32,213.12 133.05,218.32 134.78,228.71 136.51,239.1 139.11,244.29 142.57,246.02 146.04,248.62 148.63,252.95 150.37,259.88 152.96,266.8 155.56,272 159.02,273.73 161.62,278.93 164.22,284.12 166.82,287.59 169.41,291.05 172.88,295.38 175.48,297.98 177.21,297.98 178.94,287.59 180.67,277.2 182.4,268.54 185,261.61 187.6,260.74 189.33,263.34 191.93,270.27 194.52,278.93 197.12,287.59 199.72,292.78 202.32,294.51 204.91,292.78 206.99,287.59" stroke="#40e040" stroke-width="1.35" stroke-dasharray="3.2 2.6" stroke-linecap="butt"/>
<polyline points="25.46,340.4 30.66,339.54 34.12,336.07 37.59,332.61 40.18,330.88 41.91,334.34 43.65,339.54 46.24,332.61 48.84,325.68 50.57,320.49 52.3,313.56 54.04,310.96 56.63,311.83 59.23,313.56 61.83,316.16 63.56,322.22 65.29,330.88 67.02,337.8 69.62,340.4 75.68,340.4 79.15,336.07 82.61,333.48 86.07,331.74 89.54,333.48 93,335.21 95.6,336.07 98.2,332.61 99.93,318.76 101.66,304.9 104.26,297.98 106.85,296.24 109.45,297.11 111.18,295.38 112.91,289.32 113.95,284.12 114,287.59 115.73,273.73 117.46,258.15 119.2,244.29 120.93,232.17 122.66,225.24 125.26,220.05 127.85,218.32 130.45,219.18 132.18,221.78 133.91,226.98 135.65,237.37 136.51,247.76 138.24,258.15 139.98,265.07 142.57,270.27 145.17,275.46 147.77,280.66 150.37,287.59 152.96,294.51 155.56,299.71 158.16,304.9 160.76,311.83 162.49,318.76 164.22,323.95 165.95,324.82 167.68,329.15 169.41,332.61 172.01,335.21 174.61,336.07 177.21,337.8 179.8,336.07 182.4,338.67 185,339.54 187.6,339.54 190.2,337.8 192.79,338.67 195.39,336.94 197.99,337.8 200.59,339.54 204.05,339.88 206.99,340.4" stroke="#1a1a1a" stroke-width="1.15"/>
</g>
<rect x="24.8" y="204" width="181.7" height="138" fill="none" stroke="#808080" stroke-width="1"/>
<path d="M24.8,342v-2.0M24.8,204v2.0" stroke="#808080" stroke-width="0.8"/>
<text transform="translate(24.8,350.5) scale(0.86,1)" text-anchor="middle" class="tk">0</text>
<path d="M41.72,342v-2.0M41.72,204v2.0" stroke="#808080" stroke-width="0.8"/>
<text transform="translate(41.72,350.5) scale(0.86,1)" text-anchor="middle" class="tk">50</text>
<path d="M58.64,342v-2.0M58.64,204v2.0" stroke="#808080" stroke-width="0.8"/>
<text transform="translate(58.64,350.5) scale(0.86,1)" text-anchor="middle" class="tk">100</text>
<path d="M75.55,342v-2.0M75.55,204v2.0" stroke="#808080" stroke-width="0.8"/>
<text transform="translate(75.55,350.5) scale(0.86,1)" text-anchor="middle" class="tk">150</text>
<path d="M92.47,342v-2.0M92.47,204v2.0" stroke="#808080" stroke-width="0.8"/>
<text transform="translate(92.47,350.5) scale(0.86,1)" text-anchor="middle" class="tk">200</text>
<path d="M109.39,342v-2.0M109.39,204v2.0" stroke="#808080" stroke-width="0.8"/>
<text transform="translate(109.39,350.5) scale(0.86,1)" text-anchor="middle" class="tk">250</text>
<path d="M126.31,342v-2.0M126.31,204v2.0" stroke="#808080" stroke-width="0.8"/>
<text transform="translate(126.31,350.5) scale(0.86,1)" text-anchor="middle" class="tk">300</text>
<path d="M143.23,342v-2.0M143.23,204v2.0" stroke="#808080" stroke-width="0.8"/>
<text transform="translate(143.23,350.5) scale(0.86,1)" text-anchor="middle" class="tk">350</text>
<path d="M160.14,342v-2.0M160.14,204v2.0" stroke="#808080" stroke-width="0.8"/>
<text transform="translate(160.14,350.5) scale(0.86,1)" text-anchor="middle" class="tk">400</text>
<path d="M177.06,342v-2.0M177.06,204v2.0" stroke="#808080" stroke-width="0.8"/>
<text transform="translate(177.06,350.5) scale(0.86,1)" text-anchor="middle" class="tk">450</text>
<path d="M193.98,342v-2.0M193.98,204v2.0" stroke="#808080" stroke-width="0.8"/>
<text transform="translate(193.98,350.5) scale(0.86,1)" text-anchor="middle" class="tk">500</text>
<path d="M24.8,342h2.0M206.5,342h-2.0" stroke="#808080" stroke-width="0.8"/>
<text transform="translate(21.9,345.4) scale(0.86,1)" text-anchor="end" class="tk">0</text>
<path d="M24.8,324.75h2.0M206.5,324.75h-2.0" stroke="#808080" stroke-width="0.8"/>
<text transform="translate(21.9,328.15) scale(0.86,1)" text-anchor="end" class="tk">20</text>
<path d="M24.8,307.5h2.0M206.5,307.5h-2.0" stroke="#808080" stroke-width="0.8"/>
<text transform="translate(21.9,310.9) scale(0.86,1)" text-anchor="end" class="tk">40</text>
<path d="M24.8,290.25h2.0M206.5,290.25h-2.0" stroke="#808080" stroke-width="0.8"/>
<text transform="translate(21.9,293.65) scale(0.86,1)" text-anchor="end" class="tk">60</text>
<path d="M24.8,273h2.0M206.5,273h-2.0" stroke="#808080" stroke-width="0.8"/>
<text transform="translate(21.9,276.4) scale(0.86,1)" text-anchor="end" class="tk">80</text>
<path d="M24.8,255.75h2.0M206.5,255.75h-2.0" stroke="#808080" stroke-width="0.8"/>
<text transform="translate(21.9,259.15) scale(0.86,1)" text-anchor="end" class="tk">100</text>
<path d="M24.8,238.5h2.0M206.5,238.5h-2.0" stroke="#808080" stroke-width="0.8"/>
<text transform="translate(21.9,241.9) scale(0.86,1)" text-anchor="end" class="tk">120</text>
<path d="M24.8,221.25h2.0M206.5,221.25h-2.0" stroke="#808080" stroke-width="0.8"/>
<text transform="translate(21.9,224.65) scale(0.86,1)" text-anchor="end" class="tk">140</text>
<path d="M24.8,204h2.0M206.5,204h-2.0" stroke="#808080" stroke-width="0.8"/>
<text transform="translate(21.9,207.4) scale(0.86,1)" text-anchor="end" class="tk">160</text>
<text x="115.65" y="199.7" text-anchor="middle" class="tt">david2</text>
<text x="115.65" y="362.6" text-anchor="middle" class="xl">Frame</text>
<text transform="translate(9.2,273.9) rotate(-90)" text-anchor="middle" class="yl">Center Error (pixel)</text>
<clipPath id="c4"><rect x="261" y="204" width="182.3" height="138"/></clipPath>
<g clip-path="url(#c4)" fill="none" stroke-linejoin="round" stroke-linecap="round">
<polyline points="262.46,340.4 276.32,340.06 293.63,339.54 310.95,339.71 328.27,340.06 350.95,339.88 354.46,339.54 376.98,339.88 402.95,339.54 428.93,339.71 443.99,339.54" stroke="#1a1a1a" stroke-width="1.15"/>
<polyline points="262.46,340.4 265.06,339.19 268.52,338.84 272.85,339.88 284.98,340.06 302.29,339.54 319.61,339.88 336.93,339.54 350.95,339.88 354.46,339.88 368.32,339.54 382.17,338.67 383.9,337.8 387.37,338.67 401.22,339.54 416.8,339.54 420.27,337.8 423.73,338.67 427.2,339.54 430.66,339.54 435.85,337.8 439.32,339.54 443.99,339.88" stroke="#e0204a" stroke-width="1.15"/>
<polyline points="262.46,340.58 293.63,340.23 316.15,339.54 318.74,336.94 320.48,339.54 350.95,340.4 352.73,337.8 354.46,334.34 357.93,337.8 368.32,339.54 380.44,334.34 383.9,337.8 402.95,339.54 409.88,336.07 413.34,337.8 420.27,340.4 443.99,340.4" stroke="#40e040" stroke-width="1.35" stroke-dasharray="3.2 2.6" stroke-linecap="butt"/>
<polyline points="262.46,340.58 350.95,340.58 368.32,340.58 373.51,339.54 375.24,336.07 378.71,329.15 382.17,322.22 385.63,315.29 389.1,310.1 392.56,305.77 396.02,302.3 399.49,297.98 402.95,294.51 406.41,291.91 409.88,290.18 413.34,289.32 416.8,288.45 420.27,287.59 423.73,285.85 427.2,284.12 430.66,282.39 434.12,280.66 437.59,278.93 440.18,277.2 443.99,273.73" stroke="#38e0cc" stroke-width="1.15"/>
<polyline points="262.46,340.75 350.95,340.75 368.32,340.75 398.62,340.4 401.22,336.07 404.68,330.88 408.15,324.82 411.61,318.76 415.07,313.56 418.54,307.5 422,301.44 425.46,296.24 428.93,291.05 432.39,285.85 435.85,280.66 439.32,277.2 441.91,273.73 443.99,272" stroke="#30dc30" stroke-width="1.15"/>
<polyline points="262.46,340.58 310.95,340.4 317.88,340.23 320.48,337.8 323.07,332.61 326.54,327.41 330,322.22 333.46,317.02 336.93,311.83 340.39,308.37 343.85,304.9 347.32,301.44 349.91,300.57 350.95,300.05 354.46,297.98 357.93,297.11 361.39,297.11 364.85,297.98 368.32,299.71 371.78,303.17 375.24,307.5 378.71,312.7 382.17,318.76 385.63,323.95 389.1,329.15 392.56,334.34 396.02,338.67 398.62,340.4 400.35,338.67 402.95,332.61 406.41,327.41 409.88,322.22 413.34,317.02 416.8,311.83 420.27,306.63 423.73,301.44 427.2,294.51 430.66,289.32 434.12,284.12 437.59,278.93 440.18,273.73 441.91,268.54 443.99,266.8" stroke="#d020c8" stroke-width="1.15"/>
<polyline points="262.46,340.58 310.95,340.4 317.88,340.23 320.48,337.8 323.07,332.61 326.54,327.41 330,322.22 333.46,317.02 336.93,311.83 340.39,308.37 343.85,304.9 347.32,301.44 349.91,300.57 350.95,300.05 354.46,297.98 357.93,297.11 361.39,297.11 364.85,297.98 368.32,299.71 371.78,303.17 375.24,307.5 378.71,312.7 382.17,318.76 385.63,323.95 389.1,329.15 392.56,334.34 396.02,338.67 398.62,340.4 400.35,338.67 402.95,333.48 406.41,328.28 409.88,323.09 413.34,317.89 416.8,312.7 420.27,307.5 423.73,302.3 427.2,295.9 430.66,290.18 434.12,284.99 437.59,279.79 440.18,274.6 441.91,269.4 443.99,267.32" stroke="#f27af2" stroke-width="1.35" stroke-dasharray="3.2 2.6" stroke-linecap="butt"/>
<polyline points="262.46,340.4 272.85,340.4 279.78,339.54 284.98,334.34 290.17,327.41 295.37,320.49 300.56,313.56 305.76,306.63 310.95,299.71 316.15,292.78 321.34,284.12 325.67,277.2 328.27,272 331.73,267.67 335.2,264.21 338.66,263.34 342.12,263.34 345.59,263 349.05,260.74 350.95,259.01 353.6,252.95 356.2,249.49 359.66,247.76 361.39,246.02 363.12,221.78 364.85,213.12 366.59,220.05 367.45,230.44 370.05,233.9 373.51,240.83 376.98,244.29 380.44,247.76 383.9,249.49 387.37,249.49 389.96,251.22 392.56,254.68 395.16,258.15 397.76,263.34 400.35,266.8 402.95,270.27 405.55,273.73 408.15,277.2 409.88,270.27 411.61,249.49 413.34,232.17 415.07,228.71 417.67,230.44 419.4,211.39 420.27,209.66 421.13,218.32 422,235.63 423.73,249.49 425.46,256.41 428.06,251.22 430.66,235.63 432.39,220.05 433.78,218.32 434.99,230.44 436.72,244.29 438.45,251.22 440.18,259.88 441.91,266.8 443.99,270.27" stroke="#3ed8d8" stroke-width="1.35" stroke-dasharray="3.2 2.6" stroke-linecap="butt"/>
<polyline points="262.46,340.4 310.95,340.23 350.95,339.54 351,336.07 353.6,330.01 356.2,329.15 359.66,330.01 363.12,330.01 366.59,330.01 370.05,329.15 373.51,327.41 376.98,323.95 379.57,320.49 382.17,317.02 385.63,311.83 389.1,308.37 392.56,304.9 396.02,300.57 399.49,296.24 402.95,292.78 406.41,290.18 409.88,288.45 413.34,286.72 416.8,285.85 420.27,280.66 422,275.46 425.46,273.73 428.93,272 431.52,270.27 434.12,272 436.72,273.73 439.32,272 441.91,270.27 443.99,268.54" stroke="#2a2ab4" stroke-width="1.35" stroke-dasharray="3.2 2.6" stroke-linecap="butt"/>
<polyline points="262.46,340.4 310.95,340.23 342.12,340.06 343.85,339.54 345.59,332.61 347.32,333.48 349.91,334.34 350.95,334 351,334.34 352.73,336.07 354.46,337.8 357.93,338.67 361.39,336.94 364.85,337.8 368.32,334.34 371.78,330.01 375.24,325.68 378.71,318.76 381.3,313.56 383.9,310.1 387.37,306.63 390.83,304.04 394.29,301.44 397.76,297.98 401.22,294.51 402.95,292.78 404.68,295.38 406.41,291.05 409.88,289.32 413.34,287.59 416.8,286.72 420.27,286.72 423.73,284.99 427.2,283.26 429.79,282.39 430.66,284.12 431.52,297.98 432.39,303.17 435.85,300.57 439.32,297.11 441.91,294.51 443.99,293.65" stroke="#2626a0" stroke-width="1.15"/>
</g>
<rect x="261" y="204" width="182.3" height="138" fill="none" stroke="#808080" stroke-width="1"/>
<path d="M261,342v-2.0M261,204v2.0" stroke="#808080" stroke-width="0.8"/>
<text transform="translate(261,350.5) scale(0.86,1)" text-anchor="middle" class="tk">0</text>
<path d="M297.17,342v-2.0M297.17,204v2.0" stroke="#808080" stroke-width="0.8"/>
<text transform="translate(297.17,350.5) scale(0.86,1)" text-anchor="middle" class="tk">50</text>
<path d="M333.34,342v-2.0M333.34,204v2.0" stroke="#808080" stroke-width="0.8"/>
<text transform="translate(333.34,350.5) scale(0.86,1)" text-anchor="middle" class="tk">100</text>
<path d="M369.51,342v-2.0M369.51,204v2.0" stroke="#808080" stroke-width="0.8"/>
<text transform="translate(369.51,350.5) scale(0.86,1)" text-anchor="middle" class="tk">150</text>
<path d="M405.68,342v-2.0M405.68,204v2.0" stroke="#808080" stroke-width="0.8"/>
<text transform="translate(405.68,350.5) scale(0.86,1)" text-anchor="middle" class="tk">200</text>
<path d="M441.85,342v-2.0M441.85,204v2.0" stroke="#808080" stroke-width="0.8"/>
<text transform="translate(441.85,350.5) scale(0.86,1)" text-anchor="middle" class="tk">250</text>
<path d="M261,342h2.0M443.3,342h-2.0" stroke="#808080" stroke-width="0.8"/>
<text transform="translate(258.1,345.4) scale(0.86,1)" text-anchor="end" class="tk">0</text>
<path d="M261,322.29h2.0M443.3,322.29h-2.0" stroke="#808080" stroke-width="0.8"/>
<text transform="translate(258.1,325.69) scale(0.86,1)" text-anchor="end" class="tk">100</text>
<path d="M261,302.57h2.0M443.3,302.57h-2.0" stroke="#808080" stroke-width="0.8"/>
<text transform="translate(258.1,305.97) scale(0.86,1)" text-anchor="end" class="tk">200</text>
<path d="M261,282.86h2.0M443.3,282.86h-2.0" stroke="#808080" stroke-width="0.8"/>
<text transform="translate(258.1,286.26) scale(0.86,1)" text-anchor="end" class="tk">300</text>
<path d="M261,263.14h2.0M443.3,263.14h-2.0" stroke="#808080" stroke-width="0.8"/>
<text transform="translate(258.1,266.54) scale(0.86,1)" text-anchor="end" class="tk">400</text>
<path d="M261,243.43h2.0M443.3,243.43h-2.0" stroke="#808080" stroke-width="0.8"/>
<text transform="translate(258.1,246.83) scale(0.86,1)" text-anchor="end" class="tk">500</text>
<path d="M261,223.71h2.0M443.3,223.71h-2.0" stroke="#808080" stroke-width="0.8"/>
<text transform="translate(258.1,227.11) scale(0.86,1)" text-anchor="end" class="tk">600</text>
<path d="M261,204h2.0M443.3,204h-2.0" stroke="#808080" stroke-width="0.8"/>
<text transform="translate(258.1,207.4) scale(0.86,1)" text-anchor="end" class="tk">700</text>
<text x="352.15" y="199.7" text-anchor="middle" class="tt">david3</text>
<text x="352.15" y="362.6" text-anchor="middle" class="xl">Frame</text>
<text transform="translate(245.4,273.9) rotate(-90)" text-anchor="middle" class="yl">Center Error (pixel)</text>
<clipPath id="c5"><rect x="497.6" y="204" width="181.8" height="138"/></clipPath>
<g clip-path="url(#c5)" fill="none" stroke-linejoin="round" stroke-linecap="round">
<polyline points="497.6,336.07 503.66,332.61 508.85,334.34 514.05,337.8 519.24,336.07 524.44,339.54 529.63,332.61 534.83,332.61 540.02,336.07 545.22,334.34 550.41,332.61 555.61,336.07 560.8,337.8 566,336.07 571.2,339.54 576.39,336.07 581.59,337.8 586.95,335.21 587,336.07 593.93,334.34 600.85,332.61 606.05,329.15 611.24,332.61 618.17,334.34 625.1,334.34 632.02,336.07 638.95,337.8 645.88,336.07 652.8,334.34 659.73,332.61 666.66,329.15 671.85,325.68 679.99,329.15" stroke="#40e040" stroke-width="1.35" stroke-dasharray="3.2 2.6" stroke-linecap="butt"/>
<polyline points="497.6,332.61 505.39,325.68 512.32,330.88 519.24,327.41 526.17,330.88 533.1,325.68 540.02,322.22 546.95,323.95 553.88,327.41 560.8,325.68 567.73,322.22 574.66,325.68 581.59,329.15 586.95,327.07 587,325.68 593.93,322.22 600.85,315.29 607.78,317.02 614.71,320.49 621.63,322.22 628.56,323.95 635.49,322.22 642.41,320.49 649.34,318.76 656.27,320.49 663.2,318.76 670.12,315.29 675.32,322.22 679.99,325.68" stroke="#ee30ee" stroke-width="1.35" stroke-dasharray="3.2 2.6" stroke-linecap="butt"/>
<polyline points="497.6,334.34 505.39,327.41 512.32,329.15 517.51,315.29 520.98,322.22 526.17,327.41 533.1,325.68 540.02,329.15 546.95,327.41 553.88,325.68 560.8,327.41 567.73,320.49 571.2,318.76 574.66,317.02 578.12,315.29 581.59,322.22 586.95,323.09 587,322.22 592.2,320.49 597.39,318.76 604.32,315.29 611.24,317.02 618.17,322.22 625.1,320.49 632.02,322.22 638.95,323.95 645.88,320.49 652.8,318.76 659.73,317.02 666.66,315.29 671.85,313.56 675.32,311.83 679.99,310.1" stroke="#3ed8d8" stroke-width="1.35" stroke-dasharray="3.2 2.6" stroke-linecap="butt"/>
<polyline points="497.6,332.61 503.66,325.68 508.85,329.15 515.78,327.41 522.71,330.88 529.63,332.61 536.56,327.41 543.49,325.68 550.41,327.41 557.34,329.15 564.27,327.41 571.2,329.15 578.12,327.41 585.05,329.15 586.95,328.28 587,325.68 593.93,322.22 600.85,317.02 607.78,315.29 614.71,318.76 621.63,325.68 628.56,325.68 635.49,327.41 642.41,325.68 649.34,323.95 656.27,325.68 663.2,322.22 668.39,311.83 673.59,315.29 679.99,322.22" stroke="#2626a0" stroke-width="1.15"/>
<polyline points="497.6,334.34 501.93,327.41 505.39,323.95 509.72,329.15 514.05,336.07 517.51,332.61 520.98,329.15 524.44,332.61 527.9,336.07 531.37,332.61 534.83,322.22 538.29,325.68 541.76,327.41 545.22,325.68 548.68,329.15 552.15,332.61 555.61,329.15 559.07,330.88 562.54,334.34 566,332.61 571.2,329.15 576.39,334.34 581.59,332.61 586.95,330.88 587,329.15 590.46,325.68 593.93,323.95 597.39,325.68 600.85,322.22 604.32,320.49 607.78,322.22 611.24,323.95 614.71,322.22 618.17,327.41 621.63,329.15 626.83,325.68 632.02,327.41 637.22,329.15 642.41,330.88 645.88,332.61 649.34,330.88 652.8,329.15 656.27,327.41 659.73,325.68 663.2,320.49 666.66,313.56 670.12,311.83 673.59,315.29 677.05,322.22 679.99,327.41" stroke="#d020c8" stroke-width="1.15"/>
<polyline points="497.6,337.8 503.66,334.34 510.59,332.61 517.51,336.07 524.44,334.34 531.37,337.8 538.29,336.07 545.22,332.61 552.15,334.34 559.07,337.8 566,336.07 572.93,334.34 579.85,337.8 586.95,334.34 587,332.61 595.66,330.88 604.32,325.68 612.98,329.15 621.63,332.61 630.29,334.34 638.95,336.07 647.61,337.8 656.27,336.07 664.93,332.61 673.59,336.07 679.99,337.8" stroke="#c040c0" stroke-width="1.0"/>
<polyline points="497.6,334.34 501.93,327.41 505.39,325.68 510.59,330.88 514.05,334.34 517.51,327.41 520.98,325.68 524.44,332.61 527.9,337.8 531.37,332.61 534.83,313.56 538.29,322.22 541.76,329.15 545.22,327.41 548.68,325.68 552.15,329.15 555.61,322.22 559.07,323.95 562.54,327.41 567.73,329.15 572.93,327.41 578.12,332.61 583.32,329.15 586.95,326.55 587,329.15 592.2,322.22 597.39,318.76 602.59,311.83 606.05,310.1 609.51,311.83 612.98,311.83 616.44,317.02 619.9,329.15 623.37,325.68 628.56,322.22 633.76,320.49 638.95,322.22 642.41,323.95 645.88,322.22 649.34,323.95 652.8,329.15 656.27,325.68 661.46,320.49 666.66,313.56 670.12,308.37 675.32,315.29 679.99,320.49" stroke="#30dc30" stroke-width="1.15"/>
<polyline points="497.6,329.15 501.93,322.22 505.39,323.95 510.59,325.68 515.78,322.22 520.98,320.49 526.17,322.22 529.63,320.49 534.83,311.83 540.02,313.56 545.22,311.83 548.68,310.1 552.15,311.83 557.34,313.56 560.8,311.83 566,308.37 571.2,311.83 576.39,310.1 581.59,308.37 585.05,310.1 586.95,309.23 587,308.37 590.46,304.9 593.93,300.57 597.39,303.17 600.85,297.98 604.32,304.9 607.78,306.63 611.24,301.44 614.71,299.71 618.17,304.9 621.63,304.9 625.1,305.77 628.56,306.63 632.02,304.9 635.49,305.77 638.95,308.37 642.41,311.83 645.88,310.1 649.34,308.37 652.8,304.9 656.27,303.17 659.73,299.71 663.2,300.57 666.66,304.9 670.12,297.98 673.59,296.24 677.05,297.98 679.99,297.98" stroke="#2a2ab4" stroke-width="1.35" stroke-dasharray="3.2 2.6" stroke-linecap="butt"/>
<polyline points="497.6,332.61 500.2,322.22 503.66,318.76 506.26,315.29 508.85,320.49 511.45,329.15 514.05,332.61 516.65,322.22 519.24,310.1 521.84,308.37 525.3,308.37 527.04,322.22 529.63,337.8 532.23,337.8 533.96,322.22 536.56,317.02 540.02,319.62 542.62,323.95 545.22,329.15 548.68,330.88 552.15,325.68 554.74,322.22 557.34,325.68 559.94,320.49 562.54,327.41 564.27,332.61 567.73,329.15 571.2,330.88 574.66,327.41 578.12,329.15 581.59,330.88 585.05,329.15 586.95,329.49 587,325.68 590.46,322.22 593.93,320.49 597.39,318.76 600.85,311.83 603.45,306.63 605.18,303.17 607.78,304.9 610.38,303.17 612.98,306.63 615.57,309.23 617.3,313.56 619.04,325.68 620.77,332.61 622.5,322.22 625.1,317.02 627.7,315.29 630.29,313.56 632.89,315.29 635.49,318.76 638.95,325.68 641.55,320.49 644.15,318.76 646.74,315.29 649.34,311.83 651.07,311.83 652.8,322.22 655.4,332.61 657.13,334.34 659.73,325.68 663.2,322.22 666.66,313.56 669.26,304.9 671.85,311.83 674.45,317.02 677.05,320.49 679.99,325.68" stroke="#1a1a1a" stroke-width="1.15"/>
<polyline points="497.6,336.07 500.2,322.22 502.79,310.1 505.39,306.63 507.99,311.83 510.59,325.68 512.32,337.8 514.91,339.54 517.51,332.61 520.11,325.68 522.71,329.15 525.3,330.88 527.9,337.8 530.5,339.54 533.1,329.15 535.7,325.68 538.29,327.41 540.89,332.61 543.49,334.34 546.95,336.07 550.41,334.34 553.88,336.07 557.34,334.34 560.8,339.54 564.27,337.8 567.73,332.61 571.2,334.34 574.66,332.61 578.12,337.8 581.59,339.54 585.05,341.27 586.95,340.4 587,332.61 590.46,329.15 593.93,325.68 597.39,320.49 600.85,315.29 604.32,318.76 607.78,322.22 611.24,318.76 614.71,322.22 616.44,304.9 617.82,296.24 619.04,308.37 620.25,325.68 621.63,320.49 624.23,322.22 626.83,323.95 630.29,320.49 632.89,317.02 635.49,325.68 638.95,332.61 642.41,336.07 645.88,334.34 649.34,329.15 652.8,334.34 656.27,336.07 659.73,327.41 663.2,322.22 666.66,313.56 669.26,297.98 670.99,296.24 673.59,299.71 676.18,296.24 677.91,304.9 679.99,311.83" stroke="#e0204a" stroke-width="1.15"/>
<polyline points="497.6,330.88 501.93,325.68 505.39,329.15 508.85,332.61 512.32,334.34 517.51,330.88 524.44,329.15 531.37,327.41 536.56,325.68 541.76,322.22 543.49,315.29 544.35,270.27 545.22,235.63 546.09,221.78 546.95,219.18 548.68,221.78 550.41,230.44 552.15,240.83 553.88,247.76 555.61,250.35 557.34,251.22 559.07,254.68 560.8,251.22 562.54,235.63 564.27,223.51 566,222.65 567.73,226.98 569.46,228.71 571.2,231.3 572.93,227.84 574.66,225.24 576.39,226.98 578.12,226.11 579.85,228.71 581.59,225.24 583.32,226.98 585.05,228.71 586.95,230.09 589.6,228.71 592.2,233.04 594.79,231.3 597.39,233.04 599.99,233.9 602.59,230.44 605.18,229.57 607.78,231.3 610.38,232.17 612.98,234.77 615.57,235.63 618.17,238.23 620.77,236.5 622.5,246.02 623.71,254.68 625.1,249.49 626.83,250.35 629.43,252.09 632.02,252.95 633.76,244.29 635.49,236.5 637.22,242.56 638.95,239.1 640.68,235.63 642.41,233.04 645.01,232.17 647.61,228.71 649.34,225.24 651.07,226.98 652.8,223.51 654.54,218.32 655.92,216.59 657.13,220.05 658.87,223.51 660.6,226.98 662.33,227.84 663.2,225.24 664.06,270.27 664.93,304.9 665.79,311.83 666.66,315.29 668.39,313.56 670.12,311.83 673.59,313.56 676.18,315.29 677.91,304.9 678.78,278.93 679.99,261.61" stroke="#38e0cc" stroke-width="1.15"/>
</g>
<rect x="497.6" y="204" width="181.8" height="138" fill="none" stroke="#808080" stroke-width="1"/>
<path d="M497.6,342v-2.0M497.6,204v2.0" stroke="#808080" stroke-width="0.8"/>
<text transform="translate(497.6,350.5) scale(0.86,1)" text-anchor="middle" class="tk">0</text>
<path d="M517.98,342v-2.0M517.98,204v2.0" stroke="#808080" stroke-width="0.8"/>
<text transform="translate(517.98,350.5) scale(0.86,1)" text-anchor="middle" class="tk">100</text>
<path d="M538.36,342v-2.0M538.36,204v2.0" stroke="#808080" stroke-width="0.8"/>
<text transform="translate(538.36,350.5) scale(0.86,1)" text-anchor="middle" class="tk">200</text>
<path d="M558.74,342v-2.0M558.74,204v2.0" stroke="#808080" stroke-width="0.8"/>
<text transform="translate(558.74,350.5) scale(0.86,1)" text-anchor="middle" class="tk">300</text>
<path d="M579.12,342v-2.0M579.12,204v2.0" stroke="#808080" stroke-width="0.8"/>
<text transform="translate(579.12,350.5) scale(0.86,1)" text-anchor="middle" class="tk">400</text>
<path d="M599.51,342v-2.0M599.51,204v2.0" stroke="#808080" stroke-width="0.8"/>
<text transform="translate(599.51,350.5) scale(0.86,1)" text-anchor="middle" class="tk">500</text>
<path d="M619.89,342v-2.0M619.89,204v2.0" stroke="#808080" stroke-width="0.8"/>
<text transform="translate(619.89,350.5) scale(0.86,1)" text-anchor="middle" class="tk">600</text>
<path d="M640.27,342v-2.0M640.27,204v2.0" stroke="#808080" stroke-width="0.8"/>
<text transform="translate(640.27,350.5) scale(0.86,1)" text-anchor="middle" class="tk">700</text>
<path d="M660.65,342v-2.0M660.65,204v2.0" stroke="#808080" stroke-width="0.8"/>
<text transform="translate(660.65,350.5) scale(0.86,1)" text-anchor="middle" class="tk">800</text>
<path d="M497.6,342h2.0M679.4,342h-2.0" stroke="#808080" stroke-width="0.8"/>
<text transform="translate(494.7,345.4) scale(0.86,1)" text-anchor="end" class="tk">0</text>
<path d="M497.6,322.29h2.0M679.4,322.29h-2.0" stroke="#808080" stroke-width="0.8"/>
<text transform="translate(494.7,325.69) scale(0.86,1)" text-anchor="end" class="tk">20</text>
<path d="M497.6,302.57h2.0M679.4,302.57h-2.0" stroke="#808080" stroke-width="0.8"/>
<text transform="translate(494.7,305.97) scale(0.86,1)" text-anchor="end" class="tk">40</text>
<path d="M497.6,282.86h2.0M679.4,282.86h-2.0" stroke="#808080" stroke-width="0.8"/>
<text transform="translate(494.7,286.26) scale(0.86,1)" text-anchor="end" class="tk">60</text>
<path d="M497.6,263.14h2.0M679.4,263.14h-2.0" stroke="#808080" stroke-width="0.8"/>
<text transform="translate(494.7,266.54) scale(0.86,1)" text-anchor="end" class="tk">80</text>
<path d="M497.6,243.43h2.0M679.4,243.43h-2.0" stroke="#808080" stroke-width="0.8"/>
<text transform="translate(494.7,246.83) scale(0.86,1)" text-anchor="end" class="tk">100</text>
<path d="M497.6,223.71h2.0M679.4,223.71h-2.0" stroke="#808080" stroke-width="0.8"/>
<text transform="translate(494.7,227.11) scale(0.86,1)" text-anchor="end" class="tk">120</text>
<path d="M497.6,204h2.0M679.4,204h-2.0" stroke="#808080" stroke-width="0.8"/>
<text transform="translate(494.7,207.4) scale(0.86,1)" text-anchor="end" class="tk">140</text>
<text x="588.5" y="199.7" text-anchor="middle" class="tt">faceocc1</text>
<text x="588.5" y="362.6" text-anchor="middle" class="xl">Frame</text>
<text transform="translate(482,273.9) rotate(-90)" text-anchor="middle" class="yl">Center Error (pixel)</text>
<clipPath id="c6"><rect x="24.8" y="395.5" width="181.7" height="138"/></clipPath>
<g clip-path="url(#c6)" fill="none" stroke-linejoin="round" stroke-linecap="round">
<polyline points="24.6,532.4 47.98,532.06 73.95,531.54 77.07,529.8 77.76,519.41 78.8,524.61 80.01,530.67 91.27,530.67 105.12,529.8 113.95,530.15 119.2,530.67 131.32,531.19 148.63,530.84 165.95,531.54 171.15,530.67 176.34,529.8 181.54,527.21 186.73,529.8 190.2,526.34 193.66,528.07 197.12,531.54 200.59,529.8 204.05,526.34 206.99,524.61" stroke="#40e040" stroke-width="1.35" stroke-dasharray="3.2 2.6" stroke-linecap="butt"/>
<polyline points="24.6,532.58 56.63,532.4 82.61,532.06 99.93,531.54 113.95,531.19 119.2,531.02 139.98,531.54 157.29,531.19 165.95,531.54 169.41,524.61 172.88,519.41 176.34,517.68 179.8,515.09 183.27,513.35 186.73,515.95 190.2,519.41 193.66,518.55 197.12,517.68 200.59,516.82 204.05,515.95 206.99,514.22" stroke="#e0204a" stroke-width="1.15"/>
<polyline points="24.6,532.4 56.63,532.06 82.61,531.19 99.93,529.8 113.95,528.94 119.2,528.94 131.32,529.8 148.63,530.15 164.22,530.67 167.68,521.15 171.15,510.76 174.61,505.56 179.8,502.96 183.27,503.83 186.73,506.43 190.2,510.76 193.66,510.76 197.12,508.16 200.59,505.56 204.05,504.7 206.99,503.83" stroke="#3ed8d8" stroke-width="1.35" stroke-dasharray="3.2 2.6" stroke-linecap="butt"/>
<polyline points="24.6,532.58 56.63,532.23 82.61,531.54 99.93,530.67 113.95,529.8 119.2,529.8 131.32,530.67 148.63,530.84 164.22,531.19 167.68,519.41 171.15,509.02 174.61,503.83 179.8,501.23 183.27,501.75 186.73,505.56 190.2,508.68 193.66,509.02 197.12,506.43 200.59,504.7 204.05,503.83 206.99,502.1" stroke="#2626a0" stroke-width="1.15"/>
<polyline points="24.6,532.58 56.63,532.23 82.61,531.88 99.93,530.84 113.95,530.15 119.2,530.15 131.32,530.84 148.63,531.19 165.09,531.19 168.55,517.68 172.01,507.29 176.34,502.1 180.67,500.37 184.13,501.23 187.6,505.56 191.06,510.76 194.52,510.76 197.99,507.29 201.45,504.7 204.91,502.1 206.99,500.37" stroke="#30dc30" stroke-width="1.15"/>
<polyline points="24.6,532.58 56.63,532.4 82.61,531.54 96.46,530.67 98.2,528.07 99.93,521.15 102.52,519.41 105.12,517.68 107.72,519.41 110.32,518.55 112.91,519.41 113.95,522.01 114,521.15 115.73,526.34 119.2,527.21 124.39,528.07 129.59,527.21 134.78,526.34 138.24,528.07 148.63,529.8 165.09,530.67 168.55,515.95 172.01,505.56 176.34,500.71 180.67,498.98 184.13,500.37 187.6,504.7 191.06,508.16 194.52,508.68 197.99,505.56 201.45,502.96 204.91,501.23 206.99,499.5" stroke="#38e0cc" stroke-width="1.15"/>
<polyline points="24.6,532.58 56.63,532.23 73.95,531.19 82.61,528.07 91.27,527.21 99.93,527.21 108.59,526.34 113.95,526.69 114,528.07 122.66,527.21 131.32,528.94 139.98,528.07 148.63,527.21 157.29,526.34 164.22,528.07 169.41,517.68 174.61,507.29 179.8,503.83 183.27,503.83 188.46,510.76 193.66,512.49 200.59,509.02 206.99,509.89" stroke="#2a2ab4" stroke-width="1.35" stroke-dasharray="3.2 2.6" stroke-linecap="butt"/>
<polyline points="24.6,532.58 56.63,532.23 82.61,531.54 98.2,529.8 103.39,527.21 108.59,525.48 113.95,526 114,526.34 122.66,527.21 131.32,529.8 139.98,530.67 148.63,529.8 157.29,529.8 165.95,529.8 169.41,512.49 172.88,502.1 176.34,498.63 179.8,494.3 183.27,492.57 185.87,495.17 188.46,499.5 191.06,502.1 193.66,502.1 197.12,501.23 200.59,500.37 204.05,498.63 206.99,496.9" stroke="#d020c8" stroke-width="1.15"/>
<polyline points="24.6,532.58 56.63,532.23 82.61,531.54 99.93,529.8 113.95,528.94 119.2,529.46 139.98,529.8 157.29,529.8 160.76,526.34 162.14,507.29 164.22,505.56 165.95,509.02 167.68,507.29 169.41,503.83 172.01,496.9 173.74,490.84 175.48,489.98 178.07,491.71 180.67,495.17 183.27,496.9 186.73,502.1 190.2,505.56 195.39,505.56 200.59,503.83 206.99,502.1" stroke="#ee30ee" stroke-width="1.35" stroke-dasharray="3.2 2.6" stroke-linecap="butt"/>
<polyline points="24.6,532.4 26.33,529.8 28.93,526.34 31.52,526.69 34.12,525.48 36.72,527.21 39.32,524.61 41.91,523.22 44.51,524.26 47.11,525.48 49.71,527.21 51.44,526.34 53.17,522.88 54.9,515.95 57.5,509.02 60.1,502.1 62.7,496.9 65.29,493.44 67.89,493.09 70.49,496.04 73.09,502.1 75.68,509.02 78.28,512.49 80.01,509.02 82.61,502.1 85.21,496.9 87.8,489.98 90.4,484.78 92.65,483.05 94.73,486.51 97.33,490.84 99.93,491.71 101.66,495.17 103.39,500.37 105.99,503.83 108.59,504.7 111.18,502.96 113.95,501.75 114,502.1 116.6,497.77 119.2,493.44 121.79,489.11 124.39,484.78 126.99,480.45 129.59,475.26 132.18,470.93 134.78,465.73 136.17,462.27 138.24,464 140.84,465.73 142.57,462.27 144.3,457.07 146.04,451.88 148.63,446.68 151.23,441.49 153.83,436.29 156.43,429.37 159.02,420.71 161.62,413.78 164.22,407.72 166.82,405.12 168.55,401.66 169.76,399.58 171.15,400.79 172.88,405.12 174.61,410.32 176.34,414.65 178.94,419.84 181.54,423.3 185,427.63 188.46,431.96 191.06,435.43 193.66,438.89 196.26,440.62 198.85,440.1 201.45,442.35 203.18,441.49 204.91,434.56 205.78,431.1 206.99,430.23" stroke="#1a1a1a" stroke-width="1.15"/>
</g>
<rect x="24.8" y="395.5" width="181.7" height="138" fill="none" stroke="#808080" stroke-width="1"/>
<path d="M24.8,533.5v-2.0M24.8,395.5v2.0" stroke="#808080" stroke-width="0.8"/>
<text transform="translate(24.8,542) scale(0.86,1)" text-anchor="middle" class="tk">0</text>
<path d="M49.9,533.5v-2.0M49.9,395.5v2.0" stroke="#808080" stroke-width="0.8"/>
<text transform="translate(49.9,542) scale(0.86,1)" text-anchor="middle" class="tk">50</text>
<path d="M74.99,533.5v-2.0M74.99,395.5v2.0" stroke="#808080" stroke-width="0.8"/>
<text transform="translate(74.99,542) scale(0.86,1)" text-anchor="middle" class="tk">100</text>
<path d="M100.09,533.5v-2.0M100.09,395.5v2.0" stroke="#808080" stroke-width="0.8"/>
<text transform="translate(100.09,542) scale(0.86,1)" text-anchor="middle" class="tk">150</text>
<path d="M125.19,533.5v-2.0M125.19,395.5v2.0" stroke="#808080" stroke-width="0.8"/>
<text transform="translate(125.19,542) scale(0.86,1)" text-anchor="middle" class="tk">200</text>
<path d="M150.28,533.5v-2.0M150.28,395.5v2.0" stroke="#808080" stroke-width="0.8"/>
<text transform="translate(150.28,542) scale(0.86,1)" text-anchor="middle" class="tk">250</text>
<path d="M175.38,533.5v-2.0M175.38,395.5v2.0" stroke="#808080" stroke-width="0.8"/>
<text transform="translate(175.38,542) scale(0.86,1)" text-anchor="middle" class="tk">300</text>
<path d="M200.48,533.5v-2.0M200.48,395.5v2.0" stroke="#808080" stroke-width="0.8"/>
<text transform="translate(200.48,542) scale(0.86,1)" text-anchor="middle" class="tk">350</text>
<path d="M24.8,533.5h2.0M206.5,533.5h-2.0" stroke="#808080" stroke-width="0.8"/>
<text transform="translate(21.9,536.9) scale(0.86,1)" text-anchor="end" class="tk">0</text>
<path d="M24.8,505.9h2.0M206.5,505.9h-2.0" stroke="#808080" stroke-width="0.8"/>
<text transform="translate(21.9,509.3) scale(0.86,1)" text-anchor="end" class="tk">50</text>
<path d="M24.8,478.3h2.0M206.5,478.3h-2.0" stroke="#808080" stroke-width="0.8"/>
<text transform="translate(21.9,481.7) scale(0.86,1)" text-anchor="end" class="tk">100</text>
<path d="M24.8,450.7h2.0M206.5,450.7h-2.0" stroke="#808080" stroke-width="0.8"/>
<text transform="translate(21.9,454.1) scale(0.86,1)" text-anchor="end" class="tk">150</text>
<path d="M24.8,423.1h2.0M206.5,423.1h-2.0" stroke="#808080" stroke-width="0.8"/>
<text transform="translate(21.9,426.5) scale(0.86,1)" text-anchor="end" class="tk">200</text>
<path d="M24.8,395.5h2.0M206.5,395.5h-2.0" stroke="#808080" stroke-width="0.8"/>
<text transform="translate(21.9,398.9) scale(0.86,1)" text-anchor="end" class="tk">250</text>
<text x="115.65" y="391.2" text-anchor="middle" class="tt">football</text>
<text x="115.65" y="554.1" text-anchor="middle" class="xl">Frame</text>
<text transform="translate(9.2,465.4) rotate(-90)" text-anchor="middle" class="yl">Center Error (pixel)</text>
<clipPath id="c7"><rect x="261" y="395.5" width="182.3" height="138"/></clipPath>
<g clip-path="url(#c7)" fill="none" stroke-linejoin="round" stroke-linecap="round">
<polyline points="263.33,532.58 284.98,532.23 310.95,532.06 336.93,531.54 350.95,531.54 368.32,531.54 385.63,531.02 402.95,530.84 420.27,530.67 428.93,529.8 437.59,530.67 443.99,529.8" stroke="#e0204a" stroke-width="1.15"/>
<polyline points="263.33,532.4 284.98,531.54 310.95,529.8 319.61,522.88 324.8,522.01 330,521.15 333.46,522.88 342.12,523.74 350.95,524.61 351,524.61 368.32,526.34 385.63,528.07 402.95,529.8 420.27,529.8 437.59,528.94 443.99,528.07" stroke="#ee30ee" stroke-width="1.35" stroke-dasharray="3.2 2.6" stroke-linecap="butt"/>
<polyline points="263.33,532.4 276.32,530.67 293.63,529.8 310.95,528.94 319.61,527.21 328.27,526.34 333.46,525.48 338.66,525.48 345.59,526.34 350.95,526.34 359.66,527.21 368.32,526.34 376.98,527.21 385.63,526.34 394.29,524.61 397.76,517.68 401.22,510.76 404.68,505.56 408.15,502.1 410.74,495.17 413.34,489.98 415.94,491.71 418.54,486.51 420.27,481.32 423.73,479.59 427.2,479.59 430.66,478.72 434.12,478.72 436.72,477.85 438.45,483.05 440.18,489.98 441.91,493.44 443.99,491.71" stroke="#d020c8" stroke-width="1.15"/>
<polyline points="263.33,532.4 284.98,531.54 310.95,529.8 328.27,527.21 350.95,526.34 359.66,524.61 368.32,523.74 376.98,522.88 385.63,522.88 394.29,521.15 399.49,517.68 402.95,510.76 406.41,505.56 409.88,500.37 413.34,495.17 416.8,492.57 420.27,493.44 423.73,491.71 427.2,489.98 430.66,487.38 434.12,487.38 437.59,489.11 441.05,486.51 443.99,484.78" stroke="#3ed8d8" stroke-width="1.35" stroke-dasharray="3.2 2.6" stroke-linecap="butt"/>
<polyline points="263.33,532.58 284.98,531.88 310.95,530.67 328.27,528.07 350.95,526.34 368.32,525.48 385.63,524.61 394.29,523.74 397.76,521.15 401.22,517.68 404.68,512.49 408.15,510.76 411.61,509.02 415.07,507.29 418.54,505.56 422,503.83 425.46,500.37 428.93,496.9 432.39,493.44 435.85,491.71 437.59,493.44 439.32,503.83 441.05,521.15 442.78,514.22 443.99,505.56" stroke="#38e0cc" stroke-width="1.15"/>
<polyline points="263.33,532.58 284.98,531.54 310.95,530.67 328.27,529.8 350.95,529.8 359.66,528.94 368.32,528.07 376.98,527.21 385.63,527.21 394.29,526.34 397.76,524.61 402.95,522.88 406.41,522.01 409.88,521.15 413.34,515.09 416.8,514.22 420.27,512.49 423.73,510.76 427.2,509.89 430.66,509.02 434.12,509.02 436.72,510.76 438.45,514.22 440.18,521.15 441.91,517.68 443.99,514.22" stroke="#2626a0" stroke-width="1.15"/>
<polyline points="263.33,532.4 272.85,531.54 279.78,529.8 281.51,517.68 282.9,508.16 286.71,508.16 291.04,508.16 293.63,508.16 296.23,509.02 298.83,512.49 300.56,515.95 303.16,521.15 305.76,526.34 307.49,529.8 310.95,526.34 314.41,522.88 317.88,521.15 321.34,524.61 324.8,524.61 328.27,521.15 330.87,514.22 331.73,510.76 333.46,517.68 335.2,524.61 338.66,526.34 342.12,526.34 345.59,524.61 349.05,524.61 350.95,524.96 354.46,519.41 357.93,515.95 361.39,517.68 364.85,515.95 368.32,517.68 371.78,519.41 375.24,521.15 378.71,517.68 382.17,514.22 385.63,512.49 389.1,510.76 392.56,509.89 396.02,512.49 399.49,514.22 402.95,517.68 406.41,519.41 409.88,517.68 413.34,514.22 416.8,507.29 420.27,505.56 423.73,505.56 427.2,507.29 430.66,509.02 434.12,507.29 437.59,512.49 440.18,517.68 442.78,521.15 443.99,517.68" stroke="#40e040" stroke-width="1.35" stroke-dasharray="3.2 2.6" stroke-linecap="butt"/>
<polyline points="263.33,532.4 265.06,528.94 267.66,528.07 270.26,528.94 272.85,529.8 275.45,528.07 278.05,527.21 280.65,525.48 283.24,523.74 285.84,522.01 288.44,521.15 291.04,521.15 293.63,515.95 295.71,512.49 297.44,508.16 299.7,509.89 302.29,510.76 304.89,512.49 307.49,515.09 310.09,517.68 312.68,520.28 314.41,516.82 317.01,517.68 319.61,515.95 322.21,514.22 324.8,515.09 327.4,517.68 330,518.55 331.73,517.68 333.46,524.61 335.2,528.07 337.79,529.8 340.39,529.8 343.85,528.07 347.32,524.61 349.91,526.34 350.95,526 353.6,522.01 355.33,517.68 357.06,522.88 359.66,526.34 363.12,527.21 366.59,526.34 370.05,527.21 373.51,526.34 376.98,527.21 380.44,526.34 385.63,526.34 390.83,527.21 396.02,525.48 401.22,524.61 406.41,522.01 409.88,521.15 413.34,517.68 415.94,514.22 418.54,507.29 420.27,498.63 422.87,489.98 425.46,483.05 428.06,477.85 430.66,472.66 433.26,469.2 435.85,470.06 437.59,483.05 439.32,496.9 441.05,514.22 442.78,519.41 443.99,510.76" stroke="#1a1a1a" stroke-width="1.15"/>
<polyline points="263.33,532.58 284.98,532.06 310.95,531.19 328.27,529.8 350.95,528.94 359.66,528.07 376.98,528.94 394.29,529.8 408.15,529.8 409.01,514.22 409.88,489.98 410.74,476.12 413.34,476.12 415.94,477.85 416.8,458.8 417.67,436.29 419.4,427.63 421.13,420.71 422.87,413.78 424.6,417.24 426.33,425.9 428.06,434.56 429.79,436.29 431.52,431.1 433.26,424.17 434.99,427.63 436.72,436.29 438.45,443.22 440.18,439.76 441.91,418.98 442.78,408.59 443.99,407.72" stroke="#30dc30" stroke-width="1.15"/>
<polyline points="263.33,532.4 276.32,531.54 293.63,530.67 307.49,529.8 314.41,528.07 319.61,526.34 324.8,525.48 328.27,524.61 331.73,524.61 335.2,524.61 338.66,524.61 342.12,525.48 345.59,524.61 347.32,517.68 349.05,510.76 350.95,507.29 353.6,512.49 356.2,513.35 357.93,512.49 359.66,500.37 361.39,489.98 363.12,479.59 364.85,469.2 366.59,462.27 368.32,460.54 370.91,458.8 373.51,458.8 375.24,444.95 376.98,436.29 378.71,429.37 381.3,424.17 383.9,420.71 386.5,418.98 389.1,417.24 391.7,412.05 393.43,415.51 396.02,424.17 397.76,422.44 400.35,417.24 402.95,412.91 406.41,413.78 409.88,414.65 413.34,411.18 416.8,410.32 420.27,408.59 423.73,406.85 427.2,405.12 430.66,400.79 433.26,402.52 435.85,405.12 437.59,412.05 439.32,424.17 441.05,434.56 442.78,439.76 443.99,438.02" stroke="#2a2ab4" stroke-width="1.35" stroke-dasharray="3.2 2.6" stroke-linecap="butt"/>
</g>
<rect x="261" y="395.5" width="182.3" height="138" fill="none" stroke="#808080" stroke-width="1"/>
<path d="M261,533.5v-2.0M261,395.5v2.0" stroke="#808080" stroke-width="0.8"/>
<text transform="translate(261,542) scale(0.86,1)" text-anchor="middle" class="tk">0</text>
<path d="M285.64,533.5v-2.0M285.64,395.5v2.0" stroke="#808080" stroke-width="0.8"/>
<text transform="translate(285.64,542) scale(0.86,1)" text-anchor="middle" class="tk">10</text>
<path d="M310.27,533.5v-2.0M310.27,395.5v2.0" stroke="#808080" stroke-width="0.8"/>
<text transform="translate(310.27,542) scale(0.86,1)" text-anchor="middle" class="tk">20</text>
<path d="M334.91,533.5v-2.0M334.91,395.5v2.0" stroke="#808080" stroke-width="0.8"/>
<text transform="translate(334.91,542) scale(0.86,1)" text-anchor="middle" class="tk">30</text>
<path d="M359.54,533.5v-2.0M359.54,395.5v2.0" stroke="#808080" stroke-width="0.8"/>
<text transform="translate(359.54,542) scale(0.86,1)" text-anchor="middle" class="tk">40</text>
<path d="M384.18,533.5v-2.0M384.18,395.5v2.0" stroke="#808080" stroke-width="0.8"/>
<text transform="translate(384.18,542) scale(0.86,1)" text-anchor="middle" class="tk">50</text>
<path d="M408.81,533.5v-2.0M408.81,395.5v2.0" stroke="#808080" stroke-width="0.8"/>
<text transform="translate(408.81,542) scale(0.86,1)" text-anchor="middle" class="tk">60</text>
<path d="M433.45,533.5v-2.0M433.45,395.5v2.0" stroke="#808080" stroke-width="0.8"/>
<text transform="translate(433.45,542) scale(0.86,1)" text-anchor="middle" class="tk">70</text>
<path d="M261,533.5h2.0M443.3,533.5h-2.0" stroke="#808080" stroke-width="0.8"/>
<text transform="translate(258.1,536.9) scale(0.86,1)" text-anchor="end" class="tk">0</text>
<path d="M261,487.5h2.0M443.3,487.5h-2.0" stroke="#808080" stroke-width="0.8"/>
<text transform="translate(258.1,490.9) scale(0.86,1)" text-anchor="end" class="tk">50</text>
<path d="M261,441.5h2.0M443.3,441.5h-2.0" stroke="#808080" stroke-width="0.8"/>
<text transform="translate(258.1,444.9) scale(0.86,1)" text-anchor="end" class="tk">100</text>
<path d="M261,395.5h2.0M443.3,395.5h-2.0" stroke="#808080" stroke-width="0.8"/>
<text transform="translate(258.1,398.9) scale(0.86,1)" text-anchor="end" class="tk">150</text>
<text x="352.15" y="391.2" text-anchor="middle" class="tt">football1</text>
<text x="352.15" y="554.1" text-anchor="middle" class="xl">Frame</text>
<text transform="translate(245.4,465.4) rotate(-90)" text-anchor="middle" class="yl">Center Error (pixel)</text>
<clipPath id="c8"><rect x="497.6" y="395.5" width="181.8" height="138"/></clipPath>
<g clip-path="url(#c8)" fill="none" stroke-linejoin="round" stroke-linecap="round">
<polyline points="497.6,532.4 512.32,531.54 529.63,530.67 546.95,531.54 564.27,531.19 586.95,531.54 587,530.67 604.32,528.07 611.24,526.34 618.17,529.8 638.95,530.67 656.27,529.8 670.12,529.8 673.59,531.54 679.99,529.8" stroke="#30dc30" stroke-width="1.15"/>
<polyline points="497.6,531.54 515.78,529.8 538.29,530.67 555.61,529.8 564.27,528.94 572.93,530.67 586.95,529.8 595.66,530.67 612.98,529.8 621.63,529.8 626.83,526.34 628.56,528.07 638.95,529.8 656.27,528.07 664.93,514.22 668.39,517.68 673.59,521.15 679.99,524.61" stroke="#38e0cc" stroke-width="1.15"/>
<polyline points="497.6,531.19 520.98,530.67 546.95,529.8 562.54,527.21 567.73,526.34 571.2,528.94 586.95,530.15 595.66,529.8 612.98,528.94 625.1,528.07 627.7,525.48 630.29,529.8 647.61,528.94 664.93,524.61 679.99,521.15" stroke="#3ed8d8" stroke-width="1.35" stroke-dasharray="3.2 2.6" stroke-linecap="butt"/>
<polyline points="497.6,532.58 520.98,532.23 546.95,532.4 572.93,532.06 586.95,532.23 595.66,532.06 621.63,532.23 647.61,531.54 659.73,528.07 663.2,524.61 666.66,521.15 670.12,524.61 673.59,528.07 679.99,528.94" stroke="#e0204a" stroke-width="1.15"/>
<polyline points="497.6,531.88 512.32,530.67 529.63,531.54 546.95,530.67 564.27,531.54 586.95,531.19 595.66,531.54 621.63,531.19 638.95,529.8 652.8,528.94 659.73,527.21 666.66,522.01 673.59,522.01 679.99,522.88" stroke="#ee30ee" stroke-width="1.35" stroke-dasharray="3.2 2.6" stroke-linecap="butt"/>
<polyline points="497.6,531.54 508.85,530.67 522.71,531.54 536.56,530.67 550.41,531.54 564.27,531.02 578.12,531.54 586.95,531.19 595.66,531.54 612.98,530.67 630.29,530.67 638.95,524.61 644.15,522.88 649.34,526.34 656.27,529.8 659.73,526.34 663.2,522.88 666.66,519.41 670.12,521.15 673.59,519.41 677.05,522.88 679.99,524.61" stroke="#d020c8" stroke-width="1.15"/>
<polyline points="497.6,530.67 505.39,529.8 515.78,528.94 526.17,529.8 536.56,528.07 546.95,529.8 557.34,528.07 567.73,529.8 578.12,528.94 586.95,529.8 592.2,528.94 604.32,529.8 618.17,528.07 630.29,529.8 642.41,526.34 652.8,524.61 663.2,514.22 666.66,510.76 670.12,512.49 673.59,514.22 677.05,512.49 679.99,510.76" stroke="#2a2ab4" stroke-width="1.35" stroke-dasharray="3.2 2.6" stroke-linecap="butt"/>
<polyline points="497.6,532.06 520.98,531.54 546.95,531.71 572.93,531.36 586.95,531.54 595.66,531.54 621.63,531.19 638.95,526.34 642.41,521.15 645.88,524.61 649.34,528.07 652.8,524.61 656.27,528.07 659.73,524.61 663.2,517.68 665.79,505.56 668.39,503.83 671.85,507.29 675.32,503.83 677.91,505.56 679.99,503.83" stroke="#2626a0" stroke-width="1.15"/>
<polyline points="497.6,532.4 512.32,529.8 514.05,524.61 515.78,529.8 529.63,531.54 534.83,529.8 536.56,515.95 539.16,496.9 540.89,483.05 542.62,477.85 545.22,479.59 546.09,496.9 546.95,514.22 548.68,524.61 550.41,526.34 552.15,510.76 553.01,496.9 553.88,483.05 555.61,483.05 556.48,496.9 557.34,514.22 558.73,524.61 559.94,526.34 560.8,519.41 563.4,529.8 578.12,529.8 578.99,514.22 579.85,495.17 580.72,479.59 582.45,478.72 584.18,493.44 585.91,500.37 586.95,495.17 589.6,479.59 592.2,478.72 593.93,489.98 596.52,500.37 599.12,514.22 600.85,528.07 602.59,524.61 606.05,529.8 611.24,528.07 612.98,510.76 613.84,522.88 616.44,529.8 621.63,529.8 626.83,528.07 628.56,514.22 630.29,483.05 632.02,481.32 633.76,500.37 635.49,515.95 637.22,500.37 638.95,474.39 640.68,458.8 642.41,427.63 644.15,405.12 645.88,418.98 646.74,453.61 647.61,488.24 648.48,514.22 650.21,496.9 651.94,483.05 653.67,493.44 655.4,479.59 656.61,462.27 657.65,470.93 658.87,496.9 660.6,514.22 662.33,503.83 664.06,514.22 665.79,522.88 668.39,519.41 671.85,524.61 675.32,529.8 679.99,529.8" stroke="#40e040" stroke-width="1.35" stroke-dasharray="3.2 2.6" stroke-linecap="butt"/>
<polyline points="497.6,531.54 498.46,514.22 500.2,510.76 501.93,509.89 504.52,512.49 507.12,515.09 509.72,514.22 512.32,508.16 514.05,509.02 515.78,512.49 518.38,513.35 520.98,510.76 522.71,512.49 524.44,517.68 526.17,509.02 528.77,507.29 531.37,508.16 533.1,514.22 534.48,520.28 535.7,510.76 537.43,509.02 539.16,502.1 541.76,498.63 543.49,493.44 545.22,486.51 546.95,484.78 548.68,486.51 550.41,491.71 552.15,500.37 553.88,509.02 555.61,511.62 557.34,502.96 559.07,505.56 560.8,512.49 562.88,516.82 565.13,512.49 566.87,505.56 568.6,520.28 570.33,514.22 572.06,512.49 573.79,513.35 575.52,505.56 577.26,496.9 578.99,494.3 580.72,486.51 582.45,483.05 584.18,480.45 585.91,481.32 586.95,481.66 589.6,481.32 592.2,483.05 593.93,488.24 595.66,495.17 597.39,503.83 599.12,512.49 600.85,510.76 602.59,509.02 604.32,509.02 606.05,507.29 607.78,503.83 609.51,502.1 611.24,500.37 612.98,493.44 614.71,483.05 616.44,493.44 618.17,503.83 620.25,516.82 621.63,510.76 623.37,503.83 625.1,510.76 626.83,503.83 628.56,493.44 630.29,486.51 632.02,485.65 634.62,484.78 636.35,496.9 638.09,472.66 639.82,467.46 641.55,465.73 643.28,467.46 645.01,470.93 646.74,477.85 648.48,484.78 650.21,493.44 651.94,489.98 653.67,486.51 655.4,483.05 657.13,488.24 658.87,495.17 660.6,483.05 662.33,475.26 664.06,483.05 665.79,496.9 667.52,512.49 669.26,521.15 671.85,526.34 674.45,529.8 677.05,526.34 679.99,521.15" stroke="#1a1a1a" stroke-width="1.15"/>
</g>
<rect x="497.6" y="395.5" width="181.8" height="138" fill="none" stroke="#808080" stroke-width="1"/>
<path d="M497.6,533.5v-2.0M497.6,395.5v2.0" stroke="#808080" stroke-width="0.8"/>
<text transform="translate(497.6,542) scale(0.86,1)" text-anchor="middle" class="tk">0</text>
<path d="M522,533.5v-2.0M522,395.5v2.0" stroke="#808080" stroke-width="0.8"/>
<text transform="translate(522,542) scale(0.86,1)" text-anchor="middle" class="tk">200</text>
<path d="M546.41,533.5v-2.0M546.41,395.5v2.0" stroke="#808080" stroke-width="0.8"/>
<text transform="translate(546.41,542) scale(0.86,1)" text-anchor="middle" class="tk">400</text>
<path d="M570.81,533.5v-2.0M570.81,395.5v2.0" stroke="#808080" stroke-width="0.8"/>
<text transform="translate(570.81,542) scale(0.86,1)" text-anchor="middle" class="tk">600</text>
<path d="M595.21,533.5v-2.0M595.21,395.5v2.0" stroke="#808080" stroke-width="0.8"/>
<text transform="translate(595.21,542) scale(0.86,1)" text-anchor="middle" class="tk">800</text>
<path d="M619.61,533.5v-2.0M619.61,395.5v2.0" stroke="#808080" stroke-width="0.8"/>
<text transform="translate(619.61,542) scale(0.86,1)" text-anchor="middle" class="tk">1000</text>
<path d="M644.02,533.5v-2.0M644.02,395.5v2.0" stroke="#808080" stroke-width="0.8"/>
<text transform="translate(644.02,542) scale(0.86,1)" text-anchor="middle" class="tk">1200</text>
<path d="M668.42,533.5v-2.0M668.42,395.5v2.0" stroke="#808080" stroke-width="0.8"/>
<text transform="translate(668.42,542) scale(0.86,1)" text-anchor="middle" class="tk">1400</text>
<path d="M497.6,533.5h2.0M679.4,533.5h-2.0" stroke="#808080" stroke-width="0.8"/>
<text transform="translate(494.7,536.9) scale(0.86,1)" text-anchor="end" class="tk">0</text>
<path d="M497.6,516.25h2.0M679.4,516.25h-2.0" stroke="#808080" stroke-width="0.8"/>
<text transform="translate(494.7,519.65) scale(0.86,1)" text-anchor="end" class="tk">10</text>
<path d="M497.6,499h2.0M679.4,499h-2.0" stroke="#808080" stroke-width="0.8"/>
<text transform="translate(494.7,502.4) scale(0.86,1)" text-anchor="end" class="tk">20</text>
<path d="M497.6,481.75h2.0M679.4,481.75h-2.0" stroke="#808080" stroke-width="0.8"/>
<text transform="translate(494.7,485.15) scale(0.86,1)" text-anchor="end" class="tk">30</text>
<path d="M497.6,464.5h2.0M679.4,464.5h-2.0" stroke="#808080" stroke-width="0.8"/>
<text transform="translate(494.7,467.9) scale(0.86,1)" text-anchor="end" class="tk">40</text>
<path d="M497.6,447.25h2.0M679.4,447.25h-2.0" stroke="#808080" stroke-width="0.8"/>
<text transform="translate(494.7,450.65) scale(0.86,1)" text-anchor="end" class="tk">50</text>
<path d="M497.6,430h2.0M679.4,430h-2.0" stroke="#808080" stroke-width="0.8"/>
<text transform="translate(494.7,433.4) scale(0.86,1)" text-anchor="end" class="tk">60</text>
<path d="M497.6,412.75h2.0M679.4,412.75h-2.0" stroke="#808080" stroke-width="0.8"/>
<text transform="translate(494.7,416.15) scale(0.86,1)" text-anchor="end" class="tk">70</text>
<path d="M497.6,395.5h2.0M679.4,395.5h-2.0" stroke="#808080" stroke-width="0.8"/>
<text transform="translate(494.7,398.9) scale(0.86,1)" text-anchor="end" class="tk">80</text>
<text x="588.5" y="391.2" text-anchor="middle" class="tt">mhyang</text>
<text x="588.5" y="554.1" text-anchor="middle" class="xl">Frame</text>
<text transform="translate(482,465.4) rotate(-90)" text-anchor="middle" class="yl">Center Error (pixel)</text>
<clipPath id="c9"><rect x="24.8" y="582" width="181.7" height="138.5"/></clipPath>
<g clip-path="url(#c9)" fill="none" stroke-linejoin="round" stroke-linecap="round">
<polyline points="24.6,719.58 39.32,719.06 56.63,718.54 73.95,718.88 91.27,718.19 113.95,717.67 114,716.8 122.66,717.67 131.32,716.8 139.98,717.15 148.63,715.94 157.29,716.8 165.95,715.94 174.61,716.8 183.27,715.07 191.93,715.94 200.59,715.07 206.99,714.21" stroke="#e0204a" stroke-width="1.15"/>
<polyline points="24.6,719.4 39.32,718.54 56.63,717.67 73.95,718.54 91.27,716.8 113.95,717.15 122.66,716.8 139.98,715.94 157.29,716.8 174.61,715.07 191.93,713.34 206.99,711.61" stroke="#ee30ee" stroke-width="1.35" stroke-dasharray="3.2 2.6" stroke-linecap="butt"/>
<polyline points="24.6,719.23 47.98,718.54 65.29,717.67 73.95,716.8 82.61,717.67 96.46,715.07 113.95,716.8 122.66,711.61 127.85,701.22 131.32,704.68 134.78,697.76 139.98,704.68 148.63,701.22 157.29,704.68 165.95,699.49 174.61,701.22 183.27,690.83 191.93,701.22 197.12,697.76 202.32,701.22 206.99,697.76" stroke="#3ed8d8" stroke-width="1.35" stroke-dasharray="3.2 2.6" stroke-linecap="butt"/>
<polyline points="24.6,718.54 32.39,717.67 42.78,718.19 53.17,717.15 63.56,717.84 73.95,716.8 84.34,717.67 96.46,713.34 98.2,709.88 99.93,715.07 105.12,716.8 113.95,716.8 122.66,717.15 139.98,716.8 165.95,716.8 169.41,711.61 172.88,704.68 176.34,692.56 178.07,682.17 179.8,678.71 181.54,687.37 183.27,697.76 185,704.68 186.73,701.22 188.46,690.83 190.2,682.17 191.93,676.98 193.66,680.44 195.39,687.37 197.12,701.22 198.85,687.37 200.59,680.44 202.32,678.71 204.91,676.98 206.99,676.98" stroke="#d020c8" stroke-width="1.15"/>
<polyline points="24.6,719.4 56.63,718.54 70.49,713.34 72.22,706.41 73.95,702.95 75.68,709.88 77.41,715.07 79.15,713.34 80.88,708.15 82.61,697.76 84.34,692.56 86.07,689.1 87.8,687.37 89.54,694.29 91.27,704.68 93,711.61 94.73,708.15 96.46,702.95 98.2,699.49 99.93,704.68 101.66,711.61 103.39,716.8 105.12,713.34 106.85,709.88 108.59,711.61 110.32,715.07 113.95,713.34 119.2,711.61 124.39,706.41 129.59,690.83 131.32,683.9 133.05,682.17 134.78,690.83 136.51,697.76 138.24,687.37 139.98,690.83 141.71,701.22 143.44,708.15 145.17,711.61 146.9,715.07 148.63,711.61 153.83,701.22 157.29,683.9 159.02,676.98 160.76,676.98 162.49,687.37 164.22,701.22 165.95,704.68 172.88,701.22 179.8,697.76 186.73,704.68 193.66,701.22 195.39,692.56 197.12,687.37 200.59,683.9 204.05,690.83 206.99,687.37" stroke="#40e040" stroke-width="1.35" stroke-dasharray="3.2 2.6" stroke-linecap="butt"/>
<polyline points="24.6,719.4 56.63,718.54 91.27,717.67 113.95,716.8 131.32,716.8 157.29,715.07 174.61,711.61 178.07,701.22 179.8,683.9 181.54,666.59 183.27,657.93 185,652.73 186.73,654.46 188.46,657.93 190.2,663.12 191.93,668.32 193.66,671.78 195.39,670.05 197.12,668.32 200.59,670.05 204.05,671.78 206.99,671.78" stroke="#38e0cc" stroke-width="1.15"/>
<polyline points="24.6,718.54 26.33,716.8 28.06,715.07 29.79,712.48 31.52,716.8 33.26,715.94 34.99,714.21 36.72,713.34 38.45,706.41 40.18,716.8 41.91,715.07 43.65,713.34 45.38,715.07 47.11,714.21 48.84,713.34 50.57,716.8 52.3,715.07 54.04,714.21 55.77,715.07 57.5,713.34 59.23,708.15 60.96,709.88 62.7,711.61 64.43,713.34 66.16,715.07 68.76,708.15 71.35,700.35 73.09,704.68 74.82,708.15 76.55,704.68 78.28,708.15 80.01,711.61 81.74,712.48 83.48,711.61 85.21,708.15 87.46,701.22 89.54,708.15 91.27,707.28 93,709.88 94.73,708.15 96.46,702.09 98.2,705.55 99.93,709.88 101.66,711.61 103.39,713.34 105.12,701.22 106.85,683.9 108.59,690.83 110.32,704.68 112.05,711.61 113.95,705.55 115.73,702.95 117.46,704.68 119.2,708.15 120.93,702.95 122.66,697.76 124.39,706.41 126.12,708.15 127.85,704.68 129.59,702.95 131.32,704.68 133.05,706.41 134.78,708.15 136.51,704.68 138.24,706.41 139.98,709.88 141.71,706.41 143.44,709.88 145.17,711.61 146.9,708.15 148.63,704.68 150.37,702.95 152.1,706.41 153.83,711.61 155.56,704.68 157.29,701.22 159.02,699.49 160.76,706.41 162.49,711.61 164.22,704.68 165.95,699.49 167.68,701.22 169.41,690.83 171.15,683.9 172.88,676.98 174.61,687.37 176.34,697.76 178.07,701.22 179.8,708.15 181.54,701.22 183.27,704.68 185,708.15 186.73,711.61 188.46,715.07 190.2,711.61 191.93,708.15 193.66,715.07 195.39,716.8 197.12,709.88 198.85,701.22 200.59,692.56 202.32,694.29 204.05,690.83 206.99,690.83" stroke="#1a1a1a" stroke-width="1.15"/>
<polyline points="24.6,719.06 56.63,718.54 91.27,717.67 101.66,716.8 103.39,716.8 105.12,704.68 106.85,683.9 108.59,687.37 110.32,694.29 112.05,683.9 113.95,668.32 115.73,670.05 117.46,680.44 119.2,673.51 120.93,666.59 122.66,657.93 124.39,670.05 126.12,683.9 127.85,699.49 129.59,702.95 131.32,701.22 133.05,701.22 134.78,692.56 136.51,680.44 138.24,676.98 139.98,680.44 141.71,683.9 143.44,690.83 145.17,680.44 146.9,673.51 148.63,666.59 150.37,671.78 152.1,683.9 153.83,694.29 155.56,701.22 157.29,697.76 159.02,689.1 160.76,678.71 162.49,687.37 164.22,690.83 165.95,678.71 167.68,670.05 169.41,676.98 171.15,683.9 172.88,687.37 174.61,676.98 176.34,663.12 178.07,657.93 179.8,663.12 181.54,670.05 183.27,673.51 185,683.9 186.73,697.76 188.46,704.68 190.2,711.61 191.93,708.15 193.66,711.61 195.39,706.41 197.12,697.76 198.85,690.83 200.59,694.29 202.32,690.83 204.05,692.56 206.99,690.83" stroke="#2626a0" stroke-width="1.15"/>
<polyline points="24.6,719.4 56.63,718.88 91.27,718.54 113.95,718.19 131.32,717.84 145.17,716.8 146.9,701.22 148.63,692.56 150.37,683.9 152.1,670.05 153.83,663.12 155.56,656.2 157.29,651 159.02,661.39 160.76,656.2 162.49,661.39 164.22,666.59 165.95,652.73 167.68,635.41 169.41,631.95 171.15,630.22 172.88,628.49 174.61,638.88 176.34,652.73 178.07,673.51 179.8,683.9 181.54,676.98 183.27,652.73 185,640.61 186.73,637.15 188.46,645.8 190.2,656.2 191.93,663.12 193.66,649.27 195.39,631.95 197.12,614.63 197.99,586.93 199.72,586.93 201.45,588.66 203.18,593.85 204.05,605.98 204.91,597.32 206.99,593.85" stroke="#30dc30" stroke-width="1.15"/>
<polyline points="24.6,718.54 39.32,717.67 56.63,716.8 70.49,715.07 72.22,701.22 73.95,694.29 75.68,687.37 77.41,683.9 79.15,694.29 80.88,708.15 82.61,701.22 84.34,690.83 86.07,666.59 87.46,635.41 88.67,645.8 90.4,659.66 92.13,671.78 93.87,682.17 95.6,687.37 97.33,680.44 99.06,673.51 100.79,663.12 102.52,652.73 104.26,644.07 106.85,637.15 108.59,640.61 110.32,645.8 112.05,635.41 113.95,625.89 115.73,630.22 117.46,635.41 119.2,628.49 120.93,619.83 122.66,612.9 124.39,625.02 126.12,637.15 127.85,649.27 129.59,663.12 131.32,670.05 133.05,657.93 134.78,644.07 136.51,623.29 138.24,631.95 139.98,640.61 141.71,630.22 143.44,638.88 145.17,630.22 146.9,637.15 148.63,644.07 150.37,647.54 152.1,626.76 153.83,625.02 155.56,631.95 157.29,642.34 158.68,647.54 159.89,644.07 161.62,623.29 163.35,605.98 165.09,595.59 165.95,605.98 167.68,628.49 168.55,649.27 169.41,663.12 171.15,661.39 172.88,657.93 174.61,659.66 176.34,642.34 178.07,625.02 179.8,614.63 181.54,611.17 183.27,623.29 185,630.22 186.73,637.15 188.46,625.02 190.2,614.63 191.93,609.44 193.66,623.29 195.39,631.95 197.12,654.46 198.85,671.78 200.59,668.32 202.32,666.59 204.05,676.98 206.99,673.51" stroke="#2a2ab4" stroke-width="1.35" stroke-dasharray="3.2 2.6" stroke-linecap="butt"/>
</g>
<rect x="24.8" y="582" width="181.7" height="138.5" fill="none" stroke="#808080" stroke-width="1"/>
<path d="M24.8,720.5v-2.0M24.8,582v2.0" stroke="#808080" stroke-width="0.8"/>
<text transform="translate(24.8,729) scale(0.86,1)" text-anchor="middle" class="tk">0</text>
<path d="M51.82,720.5v-2.0M51.82,582v2.0" stroke="#808080" stroke-width="0.8"/>
<text transform="translate(51.82,729) scale(0.86,1)" text-anchor="middle" class="tk">200</text>
<path d="M78.84,720.5v-2.0M78.84,582v2.0" stroke="#808080" stroke-width="0.8"/>
<text transform="translate(78.84,729) scale(0.86,1)" text-anchor="middle" class="tk">400</text>
<path d="M105.86,720.5v-2.0M105.86,582v2.0" stroke="#808080" stroke-width="0.8"/>
<text transform="translate(105.86,729) scale(0.86,1)" text-anchor="middle" class="tk">600</text>
<path d="M132.87,720.5v-2.0M132.87,582v2.0" stroke="#808080" stroke-width="0.8"/>
<text transform="translate(132.87,729) scale(0.86,1)" text-anchor="middle" class="tk">800</text>
<path d="M159.89,720.5v-2.0M159.89,582v2.0" stroke="#808080" stroke-width="0.8"/>
<text transform="translate(159.89,729) scale(0.86,1)" text-anchor="middle" class="tk">1000</text>
<path d="M186.91,720.5v-2.0M186.91,582v2.0" stroke="#808080" stroke-width="0.8"/>
<text transform="translate(186.91,729) scale(0.86,1)" text-anchor="middle" class="tk">1200</text>
<path d="M24.8,720.5h2.0M206.5,720.5h-2.0" stroke="#808080" stroke-width="0.8"/>
<text transform="translate(21.9,723.9) scale(0.86,1)" text-anchor="end" class="tk">0</text>
<path d="M24.8,705.11h2.0M206.5,705.11h-2.0" stroke="#808080" stroke-width="0.8"/>
<text transform="translate(21.9,708.51) scale(0.86,1)" text-anchor="end" class="tk">20</text>
<path d="M24.8,689.72h2.0M206.5,689.72h-2.0" stroke="#808080" stroke-width="0.8"/>
<text transform="translate(21.9,693.12) scale(0.86,1)" text-anchor="end" class="tk">40</text>
<path d="M24.8,674.33h2.0M206.5,674.33h-2.0" stroke="#808080" stroke-width="0.8"/>
<text transform="translate(21.9,677.73) scale(0.86,1)" text-anchor="end" class="tk">60</text>
<path d="M24.8,658.94h2.0M206.5,658.94h-2.0" stroke="#808080" stroke-width="0.8"/>
<text transform="translate(21.9,662.34) scale(0.86,1)" text-anchor="end" class="tk">80</text>
<path d="M24.8,643.56h2.0M206.5,643.56h-2.0" stroke="#808080" stroke-width="0.8"/>
<text transform="translate(21.9,646.96) scale(0.86,1)" text-anchor="end" class="tk">100</text>
<path d="M24.8,628.17h2.0M206.5,628.17h-2.0" stroke="#808080" stroke-width="0.8"/>
<text transform="translate(21.9,631.57) scale(0.86,1)" text-anchor="end" class="tk">120</text>
<path d="M24.8,612.78h2.0M206.5,612.78h-2.0" stroke="#808080" stroke-width="0.8"/>
<text transform="translate(21.9,616.18) scale(0.86,1)" text-anchor="end" class="tk">140</text>
<path d="M24.8,597.39h2.0M206.5,597.39h-2.0" stroke="#808080" stroke-width="0.8"/>
<text transform="translate(21.9,600.79) scale(0.86,1)" text-anchor="end" class="tk">160</text>
<path d="M24.8,582h2.0M206.5,582h-2.0" stroke="#808080" stroke-width="0.8"/>
<text transform="translate(21.9,585.4) scale(0.86,1)" text-anchor="end" class="tk">180</text>
<text x="115.65" y="577.7" text-anchor="middle" class="tt">sylvester</text>
<text x="115.65" y="741.1" text-anchor="middle" class="xl">Frame</text>
<text transform="translate(9.2,652.15) rotate(-90)" text-anchor="middle" class="yl">Center Error (pixel)</text>
<clipPath id="c10"><rect x="261" y="582" width="182.3" height="138.5"/></clipPath>
<g clip-path="url(#c10)" fill="none" stroke-linejoin="round" stroke-linecap="round">
<polyline points="262.46,719.58 293.63,719.4 328.27,719.23 350.95,719.4 359.66,719.23 385.63,719.06 411.61,719.23 443.99,719.06" stroke="#d020c8" stroke-width="1.15"/>
<polyline points="262.46,719.4 293.63,718.88 328.27,718.54 350.95,718.54 354.46,716.8 356.2,708.15 357.93,713.34 361.39,717.67 376.98,718.54 402.95,718.19 420.27,718.54 443.99,718.19" stroke="#ee30ee" stroke-width="1.35" stroke-dasharray="3.2 2.6" stroke-linecap="butt"/>
<polyline points="262.46,719.4 284.98,718.54 302.29,717.67 319.61,718.19 336.93,717.67 350.95,718.02 351,716.8 359.66,715.07 368.32,717.67 376.98,716.8 385.63,717.67 402.95,716.8 420.27,717.67 434.12,716.8 443.99,715.07" stroke="#2a2ab4" stroke-width="1.35" stroke-dasharray="3.2 2.6" stroke-linecap="butt"/>
<polyline points="262.46,719.58 293.63,719.4 328.27,719.23 350.95,719.23 359.66,719.23 389.1,718.54 390.83,715.94 393.43,713.34 396.02,713 399.49,713 402.95,713.34 404.68,716.8 406.41,718.88 443.99,718.88" stroke="#e0204a" stroke-width="1.15"/>
<polyline points="262.46,719.4 284.98,718.54 293.63,716.8 300.56,715.94 307.49,715.07 310.95,716.8 314.41,717.67 324.8,718.54 331.73,717.67 338.66,716.8 345.59,716.8 350.95,715.94 359.66,715.07 368.32,715.94 376.98,715.07 385.63,716.8 394.29,715.07 401.22,714.21 404.68,702.95 406.41,701.22 409.88,703.82 413.34,704.68 416.8,704.68 420.27,708.15 423.73,708.15 427.2,707.28 430.66,708.15 434.12,707.28 437.59,704.68 441.05,702.95 443.99,703.82" stroke="#40e040" stroke-width="1.35" stroke-dasharray="3.2 2.6" stroke-linecap="butt"/>
<polyline points="262.46,719.4 265.93,717.67 269.39,716.8 272.85,716.8 276.32,715.94 279.78,716.8 283.24,717.67 286.71,718.19 293.63,717.67 300.56,716.8 304.02,717.67 307.49,716.8 310.95,716.8 312.68,715.94 314.41,711.61 317.88,706.41 321.34,702.95 324.8,699.49 328.27,696.89 331.73,695.16 335.2,693.43 338.66,691.7 342.12,689.96 345.59,688.23 349.05,685.98 350.95,685.11 354.46,682.17 357.93,680.44 361.39,678.71 364.85,676.98 368.32,675.24 370.05,673.51 372.65,670.05 375.24,666.59 378.71,661.39 382.17,656.2 385.63,651 389.1,645.8 392.56,640.61 396.02,635.41 399.49,631.09 402.95,625.89 406.41,620.7 409.88,619.83 413.34,618.1 416.8,616.37 420.27,613.77 423.73,612.04 427.2,610.3 430.66,607.71 434.12,605.11 437.59,603.38 441.05,601.65 443.99,600.78" stroke="#1a1a1a" stroke-width="1.15"/>
<polyline points="262.46,719.58 293.63,719.06 297.1,718.54 298.83,713.34 301.43,709.88 304.02,708.15 306.62,702.95 308.35,704.68 310.95,704.68 314.41,699.49 317.88,694.29 320.48,692.56 323.07,694.29 325.67,690.83 328.27,687.37 330.87,683.9 333.46,676.98 335.2,670.05 337.79,668.32 340.39,666.59 343.85,664.85 346.45,663.12 349.05,658.79 350.78,673.51 350.95,676.98 351,678.71 352.73,676.98 354.46,685.63 355.33,687.37 357.06,673.51 358.79,663.12 360.52,659.66 362.26,661.39 363.99,666.59 365.72,670.05 367.45,664.85 369.18,657.93 370.91,652.73 372.65,651 374.38,654.46 376.11,649.27 377.84,652.73 379.57,645.8 381.3,644.07 383.04,645.8 384.77,642.34 386.5,644.07 388.23,640.61 389.96,637.15 391.7,635.41 393.43,633.68 395.16,631.95 396.89,630.22 399.49,628.49 402.09,625.02 404.68,621.56 406.41,621.56 407.28,631.95 408.15,623.29 409.88,625.02 411.61,626.76 413.34,623.29 415.07,621.56 416.8,619.83 419.4,618.1 422,614.63 423.73,612.9 425.46,614.63 426.33,622.43 428.06,614.63 429.79,611.17 431.52,609.44 433.26,614.63 434.99,611.17 436.72,607.71 438.45,605.98 440.18,613.77 441.91,609.44 443.99,604.24" stroke="#30dc30" stroke-width="1.15"/>
<polyline points="262.46,719.58 293.63,719.23 300.56,718.54 304.02,711.61 307.49,708.15 310.95,706.41 314.41,704.68 317.88,701.22 321.34,697.76 324.8,694.29 328.27,690.83 331.73,685.63 335.2,680.44 338.66,676.98 342.12,673.51 345.59,670.05 349.05,666.59 350.95,664.51 354.46,657.93 357.93,652.73 361.39,650.13 364.85,647.54 368.32,645.8 371.78,643.21 375.24,640.61 378.71,638.88 382.17,637.15 385.63,635.41 389.1,633.68 392.56,631.95 396.02,629.35 399.49,627.62 402.95,624.16 406.41,620.7 409.88,618.1 413.34,615.5 416.8,612.9 420.27,610.3 423.73,608.57 427.2,606.84 430.66,604.24 434.12,602.51 437.59,600.78 441.05,599.05 443.99,597.32" stroke="#38e0cc" stroke-width="1.15"/>
<polyline points="262.46,719.4 269.39,718.54 276.32,716.8 279.78,713.34 283.24,708.15 286.71,702.95 290.17,697.76 293.63,694.29 297.1,690.83 300.56,685.63 304.02,683.9 306.62,688.23 308.35,682.17 310.09,679.57 312.68,683.9 315.28,685.63 317.88,683.04 320.48,682.17 323.07,676.98 325.67,663.12 327.4,662.26 330,664.85 332.6,666.59 335.2,666.59 337.79,661.39 340.39,657.93 343.85,654.46 347.32,652.73 349.91,651.87 350.95,651.52 357.93,648.4 364.85,642.34 371.78,638.01 378.71,633.68 385.63,631.09 392.56,626.76 399.49,622.43 406.41,617.23 413.34,612.9 420.27,609.44 427.2,605.11 434.12,600.78 441.05,597.32 443.99,596.45" stroke="#3ed8d8" stroke-width="1.35" stroke-dasharray="3.2 2.6" stroke-linecap="butt"/>
<polyline points="262.46,719.4 293.63,718.54 300.56,716.8 304.02,713.34 306.62,709.88 309.22,706.41 312.68,702.95 316.15,697.76 319.61,692.56 323.07,687.37 326.54,682.17 330,676.98 333.46,673.51 336.93,668.32 340.39,663.12 343.85,659.66 347.32,656.2 349.91,653.6 350.95,652.73 354.46,653.6 357.93,651 361.39,648.4 364.85,645.8 368.32,644.07 371.78,641.48 375.24,638.88 378.71,636.28 382.17,633.68 385.63,631.95 389.1,629.35 392.56,627.62 396.02,625.02 399.49,622.43 402.95,619.83 406.41,617.23 409.88,614.63 413.34,612.04 416.8,609.44 420.27,607.71 423.73,605.98 427.2,604.24 430.66,601.65 434.12,599.91 437.59,598.18 441.05,596.45 443.99,595.24" stroke="#2626a0" stroke-width="1.15"/>
</g>
<rect x="261" y="582" width="182.3" height="138.5" fill="none" stroke="#808080" stroke-width="1"/>
<path d="M261,720.5v-2.0M261,582v2.0" stroke="#808080" stroke-width="0.8"/>
<text transform="translate(261,729) scale(0.86,1)" text-anchor="middle" class="tk">0</text>
<path d="M281.83,720.5v-2.0M281.83,582v2.0" stroke="#808080" stroke-width="0.8"/>
<text transform="translate(281.83,729) scale(0.86,1)" text-anchor="middle" class="tk">20</text>
<path d="M302.67,720.5v-2.0M302.67,582v2.0" stroke="#808080" stroke-width="0.8"/>
<text transform="translate(302.67,729) scale(0.86,1)" text-anchor="middle" class="tk">40</text>
<path d="M323.5,720.5v-2.0M323.5,582v2.0" stroke="#808080" stroke-width="0.8"/>
<text transform="translate(323.5,729) scale(0.86,1)" text-anchor="middle" class="tk">60</text>
<path d="M344.34,720.5v-2.0M344.34,582v2.0" stroke="#808080" stroke-width="0.8"/>
<text transform="translate(344.34,729) scale(0.86,1)" text-anchor="middle" class="tk">80</text>
<path d="M365.17,720.5v-2.0M365.17,582v2.0" stroke="#808080" stroke-width="0.8"/>
<text transform="translate(365.17,729) scale(0.86,1)" text-anchor="middle" class="tk">100</text>
<path d="M386.01,720.5v-2.0M386.01,582v2.0" stroke="#808080" stroke-width="0.8"/>
<text transform="translate(386.01,729) scale(0.86,1)" text-anchor="middle" class="tk">120</text>
<path d="M406.84,720.5v-2.0M406.84,582v2.0" stroke="#808080" stroke-width="0.8"/>
<text transform="translate(406.84,729) scale(0.86,1)" text-anchor="middle" class="tk">140</text>
<path d="M427.67,720.5v-2.0M427.67,582v2.0" stroke="#808080" stroke-width="0.8"/>
<text transform="translate(427.67,729) scale(0.86,1)" text-anchor="middle" class="tk">160</text>
<path d="M261,720.5h2.0M443.3,720.5h-2.0" stroke="#808080" stroke-width="0.8"/>
<text transform="translate(258.1,723.9) scale(0.86,1)" text-anchor="end" class="tk">0</text>
<path d="M261,700.71h2.0M443.3,700.71h-2.0" stroke="#808080" stroke-width="0.8"/>
<text transform="translate(258.1,704.11) scale(0.86,1)" text-anchor="end" class="tk">50</text>
<path d="M261,680.93h2.0M443.3,680.93h-2.0" stroke="#808080" stroke-width="0.8"/>
<text transform="translate(258.1,684.33) scale(0.86,1)" text-anchor="end" class="tk">100</text>
<path d="M261,661.14h2.0M443.3,661.14h-2.0" stroke="#808080" stroke-width="0.8"/>
<text transform="translate(258.1,664.54) scale(0.86,1)" text-anchor="end" class="tk">150</text>
<path d="M261,641.36h2.0M443.3,641.36h-2.0" stroke="#808080" stroke-width="0.8"/>
<text transform="translate(258.1,644.76) scale(0.86,1)" text-anchor="end" class="tk">200</text>
<path d="M261,621.57h2.0M443.3,621.57h-2.0" stroke="#808080" stroke-width="0.8"/>
<text transform="translate(258.1,624.97) scale(0.86,1)" text-anchor="end" class="tk">250</text>
<path d="M261,601.79h2.0M443.3,601.79h-2.0" stroke="#808080" stroke-width="0.8"/>
<text transform="translate(258.1,605.19) scale(0.86,1)" text-anchor="end" class="tk">300</text>
<path d="M261,582h2.0M443.3,582h-2.0" stroke="#808080" stroke-width="0.8"/>
<text transform="translate(258.1,585.4) scale(0.86,1)" text-anchor="end" class="tk">350</text>
<text x="352.15" y="577.7" text-anchor="middle" class="tt">subway</text>
<text x="352.15" y="741.1" text-anchor="middle" class="xl">Frame</text>
<text transform="translate(245.4,652.15) rotate(-90)" text-anchor="middle" class="yl">Center Error (pixel)</text>
<clipPath id="c11"><rect x="497.6" y="582" width="181.8" height="138.5"/></clipPath>
<g clip-path="url(#c11)" fill="none" stroke-linejoin="round" stroke-linecap="round">
<polyline points="497.6,719.23 529.63,718.88 564.27,719.06 586.95,718.88 595.66,718.88 630.29,718.54 656.27,718.71 679.99,718.54" stroke="#e0204a" stroke-width="1.15"/>
<polyline points="497.6,718.54 512.32,718.19 529.63,718.54 546.95,718.02 564.27,718.54 586.95,718.19 595.66,718.54 621.63,718.19 638.95,718.54 664.93,718.02 679.99,718.19" stroke="#d020c8" stroke-width="1.15"/>
<polyline points="497.6,717.67 512.32,717.15 529.63,716.8 546.95,717.67 564.27,716.8 586.95,717.15 604.32,717.67 621.63,717.67 638.95,717.67 656.27,716.8 673.59,717.67 679.99,717.15" stroke="#38e0cc" stroke-width="1.15"/>
<polyline points="497.6,718.19 515.78,717.67 536.56,716.8 557.34,715.94 572.93,716.8 586.95,716.46 597.39,716.8 612.98,717.67 630.29,716.8 647.61,717.67 664.93,717.15 679.99,716.8" stroke="#3ed8d8" stroke-width="1.35" stroke-dasharray="3.2 2.6" stroke-linecap="butt"/>
<polyline points="497.6,718.02 520.98,717.67 546.95,716.8 567.73,717.15 586.95,716.8 595.66,717.67 621.63,717.67 638.95,716.8 647.61,715.94 656.27,715.07 664.93,715.94 673.59,715.07 679.99,716.8" stroke="#2626a0" stroke-width="1.15"/>
<polyline points="497.6,718.54 529.63,718.19 564.27,717.67 586.95,717.15 604.32,716.8 612.98,715.07 621.63,714.21 630.29,713.34 638.95,712.48 647.61,712.48 656.27,713.34 664.93,711.61 673.59,711.61 679.99,713.34" stroke="#ee30ee" stroke-width="1.35" stroke-dasharray="3.2 2.6" stroke-linecap="butt"/>
<polyline points="497.6,718.54 512.32,717.67 529.63,716.8 538.29,715.94 546.95,715.07 553.88,713.34 557.34,711.61 559.07,701.22 560.8,708.15 563.4,713.34 567.73,711.61 571.2,708.15 573.79,704.68 576.39,708.15 579.85,706.41 583.32,709.01 586.95,708.49 590.46,713.34 593.93,708.15 597.39,711.61 600.85,708.15 604.32,708.15 607.78,704.68 611.24,706.41 614.71,708.15 618.17,709.01 621.63,708.15 625.1,709.88 630.29,708.15 635.49,709.88 640.68,709.01 645.88,709.88 651.07,709.01 656.27,706.41 659.73,708.15 663.2,706.41 666.66,707.28 670.12,709.01 673.59,702.95 675.32,704.68 677.05,709.88 679.99,710.74" stroke="#40e040" stroke-width="1.35" stroke-dasharray="3.2 2.6" stroke-linecap="butt"/>
<polyline points="497.6,716.8 501.93,716.46 505.39,715.94 508.85,715.94 512.32,714.21 514.05,713.34 515.78,715.07 519.24,715.94 522.71,715.94 526.17,715.07 529.63,716.8 533.1,715.07 536.56,714.21 540.02,715.94 543.49,713.34 545.22,712.48 546.95,713.34 548.68,714.21 552.15,713.34 555.61,714.21 559.07,715.07 562.54,715.07 566,713.34 568.6,711.61 571.2,710.74 574.66,711.61 578.12,712.48 581.59,711.61 585.05,710.74 586.95,709.53 588.73,709.01 590.46,706.41 592.2,703.82 593.93,702.95 595.66,708.15 597.39,713.34 599.12,715.07 600.85,713.34 602.59,714.21 604.32,713.34 606.05,712.48 607.78,712.48 611.24,711.61 612.98,706.41 614.71,703.82 616.44,705.55 618.17,706.41 619.9,708.15 621.63,707.28 623.37,709.01 625.1,707.28 626.83,709.01 628.56,709.88 630.29,710.74 632.02,709.88 635.49,709.88 638.95,709.01 642.41,709.88 645.88,709.01 649.34,709.88 652.8,709.88 654.54,713.34 656.27,714.21 659.73,713.34 663.2,712.48 666.66,711.61 670.12,709.88 672.72,709.01 675.32,710.74 677.91,714.21 679.99,716.8" stroke="#1a1a1a" stroke-width="1.15"/>
<polyline points="497.6,717.67 512.32,717.15 529.63,716.8 540.02,709.88 541.76,711.61 546.95,715.94 564.27,709.01 567.73,716.8 571.2,715.07 574.66,716.8 578.12,715.07 581.59,716.8 585.05,715.94 586.95,715.42 593.93,715.07 600.85,713.34 607.78,711.61 612.98,708.15 615.57,704.68 618.17,699.49 620.77,694.29 623.37,689.1 625.96,683.9 628.56,678.71 631.16,673.51 633.76,666.59 636.35,659.66 638.95,652.73 641.55,645.8 644.15,638.88 646.74,631.95 649.34,626.76 651.94,621.56 654.54,618.1 657.13,614.63 659.73,609.44 662.33,605.98 664.93,600.78 667.52,595.59 670.12,592.12 672.72,589.52 675.32,587.79" stroke="#2a2ab4" stroke-width="1.35" stroke-dasharray="3.2 2.6" stroke-linecap="butt"/>
</g>
<rect x="497.6" y="582" width="181.8" height="138.5" fill="none" stroke="#808080" stroke-width="1"/>
<path d="M497.6,720.5v-2.0M497.6,582v2.0" stroke="#808080" stroke-width="0.8"/>
<text transform="translate(497.6,729) scale(0.86,1)" text-anchor="middle" class="tk">0</text>
<path d="M519.66,720.5v-2.0M519.66,582v2.0" stroke="#808080" stroke-width="0.8"/>
<text transform="translate(519.66,729) scale(0.86,1)" text-anchor="middle" class="tk">50</text>
<path d="M541.73,720.5v-2.0M541.73,582v2.0" stroke="#808080" stroke-width="0.8"/>
<text transform="translate(541.73,729) scale(0.86,1)" text-anchor="middle" class="tk">100</text>
<path d="M563.79,720.5v-2.0M563.79,582v2.0" stroke="#808080" stroke-width="0.8"/>
<text transform="translate(563.79,729) scale(0.86,1)" text-anchor="middle" class="tk">150</text>
<path d="M585.85,720.5v-2.0M585.85,582v2.0" stroke="#808080" stroke-width="0.8"/>
<text transform="translate(585.85,729) scale(0.86,1)" text-anchor="middle" class="tk">200</text>
<path d="M607.92,720.5v-2.0M607.92,582v2.0" stroke="#808080" stroke-width="0.8"/>
<text transform="translate(607.92,729) scale(0.86,1)" text-anchor="middle" class="tk">250</text>
<path d="M629.98,720.5v-2.0M629.98,582v2.0" stroke="#808080" stroke-width="0.8"/>
<text transform="translate(629.98,729) scale(0.86,1)" text-anchor="middle" class="tk">300</text>
<path d="M652.04,720.5v-2.0M652.04,582v2.0" stroke="#808080" stroke-width="0.8"/>
<text transform="translate(652.04,729) scale(0.86,1)" text-anchor="middle" class="tk">350</text>
<path d="M674.1,720.5v-2.0M674.1,582v2.0" stroke="#808080" stroke-width="0.8"/>
<text transform="translate(674.1,729) scale(0.86,1)" text-anchor="middle" class="tk">400</text>
<path d="M497.6,720.5h2.0M679.4,720.5h-2.0" stroke="#808080" stroke-width="0.8"/>
<text transform="translate(494.7,723.9) scale(0.86,1)" text-anchor="end" class="tk">0</text>
<path d="M497.6,674.33h2.0M679.4,674.33h-2.0" stroke="#808080" stroke-width="0.8"/>
<text transform="translate(494.7,677.73) scale(0.86,1)" text-anchor="end" class="tk">50</text>
<path d="M497.6,628.17h2.0M679.4,628.17h-2.0" stroke="#808080" stroke-width="0.8"/>
<text transform="translate(494.7,631.57) scale(0.86,1)" text-anchor="end" class="tk">100</text>
<path d="M497.6,582h2.0M679.4,582h-2.0" stroke="#808080" stroke-width="0.8"/>
<text transform="translate(494.7,585.4) scale(0.86,1)" text-anchor="end" class="tk">150</text>
<text x="588.5" y="577.7" text-anchor="middle" class="tt">walking</text>
<text x="588.5" y="741.1" text-anchor="middle" class="xl">Frame</text>
<text transform="translate(482,652.15) rotate(-90)" text-anchor="middle" class="yl">Center Error (pixel)</text>
<path d="M20,771.3h53.2" stroke="#d81e6e" stroke-width="1.9" fill="none"/>
<text x="106" y="777.5" text-anchor="middle" class="lg">Ours</text>
<path d="M147.4,771.3h53.2" stroke="#2ef0a0" stroke-width="1.9" stroke-dasharray="13.2 7" fill="none"/>
<text x="232.6" y="777.5" text-anchor="middle" class="lg">MTT</text>
<path d="M275,771.3h53.2" stroke="#2ef59a" stroke-width="1.9" fill="none"/>
<text x="360" y="777.5" text-anchor="middle" class="lg">ASLA</text>
<path d="M402,771.3h53.2" stroke="#111" stroke-width="1.9" fill="none"/>
<text x="487" y="777.5" text-anchor="middle" class="lg">KMS</text>
<path d="M531,771.3h53.2" stroke="#ee22ee" stroke-width="1.9" stroke-dasharray="13.2 7" fill="none"/>
<text x="621.3" y="777.5" text-anchor="middle" class="lg">STRUCK</text>
<path d="M20,812.6h53.2" stroke="#1a1a9a" stroke-width="1.9" fill="none"/>
<text x="105" y="818.8000000000001" text-anchor="middle" class="lg">L1APG</text>
<path d="M147.4,812.6h53.2" stroke="#1a1aaa" stroke-width="1.9" stroke-dasharray="13.2 7" fill="none"/>
<text x="232.6" y="818.8000000000001" text-anchor="middle" class="lg">LSK</text>
<path d="M275,812.6h53.2" stroke="#22ee44" stroke-width="1.9" fill="none"/>
<text x="360" y="818.8000000000001" text-anchor="middle" class="lg">IVT</text>
<path d="M402,812.6h53.2" stroke="#33ee33" stroke-width="1.9" stroke-dasharray="13.2 7" fill="none"/>
<text x="487.5" y="818.8000000000001" text-anchor="middle" class="lg">FRAG</text>
<path d="M530,812.6h53.2" stroke="#cc11cc" stroke-width="1.9" fill="none"/>
<text x="614" y="818.8000000000001" text-anchor="middle" class="lg">SST</text>
</svg>
</body></html>
